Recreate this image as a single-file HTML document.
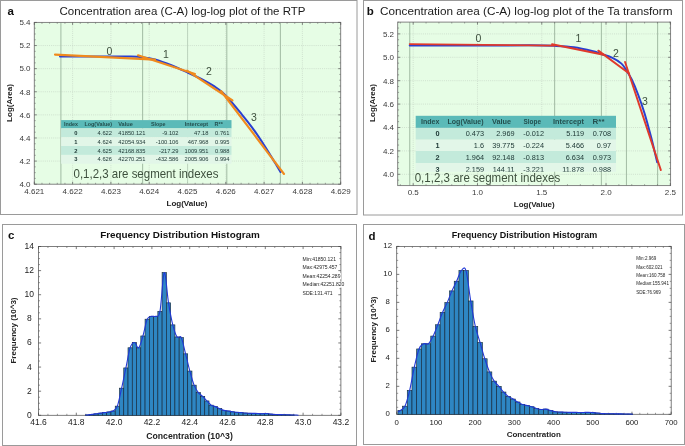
<!DOCTYPE html>
<html><head><meta charset="utf-8"><title>C-A log-log plots and frequency histograms</title>
<style>html,body{margin:0;padding:0;background:#fff;}svg{display:block;opacity:0.9999;will-change:transform;}text{font-family:"Liberation Sans",sans-serif;}</style>
</head><body>
<svg width="685" height="446" viewBox="0 0 685 446">
<rect x="0" y="0" width="685" height="446" fill="#fff"/>
<rect x="0.5" y="0.5" width="356.5" height="214.0" fill="#fff" stroke="#9a9a9a" stroke-width="1"/>
<rect x="363.5" y="0.5" width="319.0" height="214.5" fill="#fff" stroke="#9a9a9a" stroke-width="1"/>
<rect x="2.5" y="224.5" width="354.0" height="221.0" fill="#fff" stroke="#9a9a9a" stroke-width="1"/>
<rect x="363.5" y="224.5" width="321.0" height="220.0" fill="#fff" stroke="#9a9a9a" stroke-width="1"/>
<rect x="34.3" y="22.4" width="306.4" height="161.79999999999998" fill="#e6fde5"/>
<line x1="72.6" y1="22.4" x2="72.6" y2="184.2" stroke="#c6d6c6" stroke-width="0.7" stroke-dasharray="1 1.1"/>
<line x1="110.9" y1="22.4" x2="110.9" y2="184.2" stroke="#c6d6c6" stroke-width="0.7" stroke-dasharray="1 1.1"/>
<line x1="149.2" y1="22.4" x2="149.2" y2="184.2" stroke="#c6d6c6" stroke-width="0.7" stroke-dasharray="1 1.1"/>
<line x1="187.5" y1="22.4" x2="187.5" y2="184.2" stroke="#c6d6c6" stroke-width="0.7" stroke-dasharray="1 1.1"/>
<line x1="225.8" y1="22.4" x2="225.8" y2="184.2" stroke="#c6d6c6" stroke-width="0.7" stroke-dasharray="1 1.1"/>
<line x1="264.1" y1="22.4" x2="264.1" y2="184.2" stroke="#c6d6c6" stroke-width="0.7" stroke-dasharray="1 1.1"/>
<line x1="302.4" y1="22.4" x2="302.4" y2="184.2" stroke="#c6d6c6" stroke-width="0.7" stroke-dasharray="1 1.1"/>
<line x1="34.3" y1="161.09" x2="340.7" y2="161.09" stroke="#c6d6c6" stroke-width="0.7" stroke-dasharray="1 1.1"/>
<line x1="34.3" y1="137.98" x2="340.7" y2="137.98" stroke="#c6d6c6" stroke-width="0.7" stroke-dasharray="1 1.1"/>
<line x1="34.3" y1="114.87" x2="340.7" y2="114.87" stroke="#c6d6c6" stroke-width="0.7" stroke-dasharray="1 1.1"/>
<line x1="34.3" y1="91.76" x2="340.7" y2="91.76" stroke="#c6d6c6" stroke-width="0.7" stroke-dasharray="1 1.1"/>
<line x1="34.3" y1="68.65" x2="340.7" y2="68.65" stroke="#c6d6c6" stroke-width="0.7" stroke-dasharray="1 1.1"/>
<line x1="34.3" y1="45.54" x2="340.7" y2="45.54" stroke="#c6d6c6" stroke-width="0.7" stroke-dasharray="1 1.1"/>
<line x1="60.9" y1="22.4" x2="60.9" y2="184.2" stroke="#a7c0a8" stroke-width="1.1"/>
<line x1="142.6" y1="22.4" x2="142.6" y2="184.2" stroke="#a7c0a8" stroke-width="1.1"/>
<line x1="226.8" y1="22.4" x2="226.8" y2="184.2" stroke="#a7c0a8" stroke-width="1.1"/>
<line x1="280.4" y1="22.4" x2="280.4" y2="184.2" stroke="#a7c0a8" stroke-width="1.1"/>
<rect x="34.3" y="22.4" width="306.4" height="161.79999999999998" fill="none" stroke="#777" stroke-width="0.9"/>
<line x1="34.3" y1="184.2" x2="34.3" y2="181.7" stroke="#555" stroke-width="0.7"/>
<line x1="34.3" y1="22.4" x2="34.3" y2="24.9" stroke="#555" stroke-width="0.7"/>
<line x1="72.6" y1="184.2" x2="72.6" y2="181.7" stroke="#555" stroke-width="0.7"/>
<line x1="72.6" y1="22.4" x2="72.6" y2="24.9" stroke="#555" stroke-width="0.7"/>
<line x1="110.9" y1="184.2" x2="110.9" y2="181.7" stroke="#555" stroke-width="0.7"/>
<line x1="110.9" y1="22.4" x2="110.9" y2="24.9" stroke="#555" stroke-width="0.7"/>
<line x1="149.2" y1="184.2" x2="149.2" y2="181.7" stroke="#555" stroke-width="0.7"/>
<line x1="149.2" y1="22.4" x2="149.2" y2="24.9" stroke="#555" stroke-width="0.7"/>
<line x1="187.5" y1="184.2" x2="187.5" y2="181.7" stroke="#555" stroke-width="0.7"/>
<line x1="187.5" y1="22.4" x2="187.5" y2="24.9" stroke="#555" stroke-width="0.7"/>
<line x1="225.8" y1="184.2" x2="225.8" y2="181.7" stroke="#555" stroke-width="0.7"/>
<line x1="225.8" y1="22.4" x2="225.8" y2="24.9" stroke="#555" stroke-width="0.7"/>
<line x1="264.1" y1="184.2" x2="264.1" y2="181.7" stroke="#555" stroke-width="0.7"/>
<line x1="264.1" y1="22.4" x2="264.1" y2="24.9" stroke="#555" stroke-width="0.7"/>
<line x1="302.4" y1="184.2" x2="302.4" y2="181.7" stroke="#555" stroke-width="0.7"/>
<line x1="302.4" y1="22.4" x2="302.4" y2="24.9" stroke="#555" stroke-width="0.7"/>
<line x1="340.7" y1="184.2" x2="340.7" y2="181.7" stroke="#555" stroke-width="0.7"/>
<line x1="340.7" y1="22.4" x2="340.7" y2="24.9" stroke="#555" stroke-width="0.7"/>
<line x1="41.96" y1="184.2" x2="41.96" y2="182.79999999999998" stroke="#666" stroke-width="0.6"/>
<line x1="41.96" y1="22.4" x2="41.96" y2="23.799999999999997" stroke="#666" stroke-width="0.6"/>
<line x1="49.62" y1="184.2" x2="49.62" y2="182.79999999999998" stroke="#666" stroke-width="0.6"/>
<line x1="49.62" y1="22.4" x2="49.62" y2="23.799999999999997" stroke="#666" stroke-width="0.6"/>
<line x1="57.28" y1="184.2" x2="57.28" y2="182.79999999999998" stroke="#666" stroke-width="0.6"/>
<line x1="57.28" y1="22.4" x2="57.28" y2="23.799999999999997" stroke="#666" stroke-width="0.6"/>
<line x1="64.94" y1="184.2" x2="64.94" y2="182.79999999999998" stroke="#666" stroke-width="0.6"/>
<line x1="64.94" y1="22.4" x2="64.94" y2="23.799999999999997" stroke="#666" stroke-width="0.6"/>
<line x1="80.26" y1="184.2" x2="80.26" y2="182.79999999999998" stroke="#666" stroke-width="0.6"/>
<line x1="80.26" y1="22.4" x2="80.26" y2="23.799999999999997" stroke="#666" stroke-width="0.6"/>
<line x1="87.92" y1="184.2" x2="87.92" y2="182.79999999999998" stroke="#666" stroke-width="0.6"/>
<line x1="87.92" y1="22.4" x2="87.92" y2="23.799999999999997" stroke="#666" stroke-width="0.6"/>
<line x1="95.58" y1="184.2" x2="95.58" y2="182.79999999999998" stroke="#666" stroke-width="0.6"/>
<line x1="95.58" y1="22.4" x2="95.58" y2="23.799999999999997" stroke="#666" stroke-width="0.6"/>
<line x1="103.24" y1="184.2" x2="103.24" y2="182.79999999999998" stroke="#666" stroke-width="0.6"/>
<line x1="103.24" y1="22.4" x2="103.24" y2="23.799999999999997" stroke="#666" stroke-width="0.6"/>
<line x1="118.56" y1="184.2" x2="118.56" y2="182.79999999999998" stroke="#666" stroke-width="0.6"/>
<line x1="118.56" y1="22.4" x2="118.56" y2="23.799999999999997" stroke="#666" stroke-width="0.6"/>
<line x1="126.22" y1="184.2" x2="126.22" y2="182.79999999999998" stroke="#666" stroke-width="0.6"/>
<line x1="126.22" y1="22.4" x2="126.22" y2="23.799999999999997" stroke="#666" stroke-width="0.6"/>
<line x1="133.88" y1="184.2" x2="133.88" y2="182.79999999999998" stroke="#666" stroke-width="0.6"/>
<line x1="133.88" y1="22.4" x2="133.88" y2="23.799999999999997" stroke="#666" stroke-width="0.6"/>
<line x1="141.54" y1="184.2" x2="141.54" y2="182.79999999999998" stroke="#666" stroke-width="0.6"/>
<line x1="141.54" y1="22.4" x2="141.54" y2="23.799999999999997" stroke="#666" stroke-width="0.6"/>
<line x1="156.86" y1="184.2" x2="156.86" y2="182.79999999999998" stroke="#666" stroke-width="0.6"/>
<line x1="156.86" y1="22.4" x2="156.86" y2="23.799999999999997" stroke="#666" stroke-width="0.6"/>
<line x1="164.52" y1="184.2" x2="164.52" y2="182.79999999999998" stroke="#666" stroke-width="0.6"/>
<line x1="164.52" y1="22.4" x2="164.52" y2="23.799999999999997" stroke="#666" stroke-width="0.6"/>
<line x1="172.18" y1="184.2" x2="172.18" y2="182.79999999999998" stroke="#666" stroke-width="0.6"/>
<line x1="172.18" y1="22.4" x2="172.18" y2="23.799999999999997" stroke="#666" stroke-width="0.6"/>
<line x1="179.84" y1="184.2" x2="179.84" y2="182.79999999999998" stroke="#666" stroke-width="0.6"/>
<line x1="179.84" y1="22.4" x2="179.84" y2="23.799999999999997" stroke="#666" stroke-width="0.6"/>
<line x1="195.16" y1="184.2" x2="195.16" y2="182.79999999999998" stroke="#666" stroke-width="0.6"/>
<line x1="195.16" y1="22.4" x2="195.16" y2="23.799999999999997" stroke="#666" stroke-width="0.6"/>
<line x1="202.82" y1="184.2" x2="202.82" y2="182.79999999999998" stroke="#666" stroke-width="0.6"/>
<line x1="202.82" y1="22.4" x2="202.82" y2="23.799999999999997" stroke="#666" stroke-width="0.6"/>
<line x1="210.48" y1="184.2" x2="210.48" y2="182.79999999999998" stroke="#666" stroke-width="0.6"/>
<line x1="210.48" y1="22.4" x2="210.48" y2="23.799999999999997" stroke="#666" stroke-width="0.6"/>
<line x1="218.14" y1="184.2" x2="218.14" y2="182.79999999999998" stroke="#666" stroke-width="0.6"/>
<line x1="218.14" y1="22.4" x2="218.14" y2="23.799999999999997" stroke="#666" stroke-width="0.6"/>
<line x1="233.46" y1="184.2" x2="233.46" y2="182.79999999999998" stroke="#666" stroke-width="0.6"/>
<line x1="233.46" y1="22.4" x2="233.46" y2="23.799999999999997" stroke="#666" stroke-width="0.6"/>
<line x1="241.12" y1="184.2" x2="241.12" y2="182.79999999999998" stroke="#666" stroke-width="0.6"/>
<line x1="241.12" y1="22.4" x2="241.12" y2="23.799999999999997" stroke="#666" stroke-width="0.6"/>
<line x1="248.78" y1="184.2" x2="248.78" y2="182.79999999999998" stroke="#666" stroke-width="0.6"/>
<line x1="248.78" y1="22.4" x2="248.78" y2="23.799999999999997" stroke="#666" stroke-width="0.6"/>
<line x1="256.44" y1="184.2" x2="256.44" y2="182.79999999999998" stroke="#666" stroke-width="0.6"/>
<line x1="256.44" y1="22.4" x2="256.44" y2="23.799999999999997" stroke="#666" stroke-width="0.6"/>
<line x1="271.76" y1="184.2" x2="271.76" y2="182.79999999999998" stroke="#666" stroke-width="0.6"/>
<line x1="271.76" y1="22.4" x2="271.76" y2="23.799999999999997" stroke="#666" stroke-width="0.6"/>
<line x1="279.42" y1="184.2" x2="279.42" y2="182.79999999999998" stroke="#666" stroke-width="0.6"/>
<line x1="279.42" y1="22.4" x2="279.42" y2="23.799999999999997" stroke="#666" stroke-width="0.6"/>
<line x1="287.08" y1="184.2" x2="287.08" y2="182.79999999999998" stroke="#666" stroke-width="0.6"/>
<line x1="287.08" y1="22.4" x2="287.08" y2="23.799999999999997" stroke="#666" stroke-width="0.6"/>
<line x1="294.74" y1="184.2" x2="294.74" y2="182.79999999999998" stroke="#666" stroke-width="0.6"/>
<line x1="294.74" y1="22.4" x2="294.74" y2="23.799999999999997" stroke="#666" stroke-width="0.6"/>
<line x1="310.06" y1="184.2" x2="310.06" y2="182.79999999999998" stroke="#666" stroke-width="0.6"/>
<line x1="310.06" y1="22.4" x2="310.06" y2="23.799999999999997" stroke="#666" stroke-width="0.6"/>
<line x1="317.72" y1="184.2" x2="317.72" y2="182.79999999999998" stroke="#666" stroke-width="0.6"/>
<line x1="317.72" y1="22.4" x2="317.72" y2="23.799999999999997" stroke="#666" stroke-width="0.6"/>
<line x1="325.38" y1="184.2" x2="325.38" y2="182.79999999999998" stroke="#666" stroke-width="0.6"/>
<line x1="325.38" y1="22.4" x2="325.38" y2="23.799999999999997" stroke="#666" stroke-width="0.6"/>
<line x1="333.04" y1="184.2" x2="333.04" y2="182.79999999999998" stroke="#666" stroke-width="0.6"/>
<line x1="333.04" y1="22.4" x2="333.04" y2="23.799999999999997" stroke="#666" stroke-width="0.6"/>
<line x1="34.3" y1="184.2" x2="36.8" y2="184.2" stroke="#555" stroke-width="0.7"/>
<line x1="340.7" y1="184.2" x2="338.2" y2="184.2" stroke="#555" stroke-width="0.7"/>
<line x1="34.3" y1="161.09" x2="36.8" y2="161.09" stroke="#555" stroke-width="0.7"/>
<line x1="340.7" y1="161.09" x2="338.2" y2="161.09" stroke="#555" stroke-width="0.7"/>
<line x1="34.3" y1="137.98" x2="36.8" y2="137.98" stroke="#555" stroke-width="0.7"/>
<line x1="340.7" y1="137.98" x2="338.2" y2="137.98" stroke="#555" stroke-width="0.7"/>
<line x1="34.3" y1="114.87" x2="36.8" y2="114.87" stroke="#555" stroke-width="0.7"/>
<line x1="340.7" y1="114.87" x2="338.2" y2="114.87" stroke="#555" stroke-width="0.7"/>
<line x1="34.3" y1="91.76" x2="36.8" y2="91.76" stroke="#555" stroke-width="0.7"/>
<line x1="340.7" y1="91.76" x2="338.2" y2="91.76" stroke="#555" stroke-width="0.7"/>
<line x1="34.3" y1="68.65" x2="36.8" y2="68.65" stroke="#555" stroke-width="0.7"/>
<line x1="340.7" y1="68.65" x2="338.2" y2="68.65" stroke="#555" stroke-width="0.7"/>
<line x1="34.3" y1="45.54" x2="36.8" y2="45.54" stroke="#555" stroke-width="0.7"/>
<line x1="340.7" y1="45.54" x2="338.2" y2="45.54" stroke="#555" stroke-width="0.7"/>
<line x1="34.3" y1="22.43" x2="36.8" y2="22.43" stroke="#555" stroke-width="0.7"/>
<line x1="340.7" y1="22.43" x2="338.2" y2="22.43" stroke="#555" stroke-width="0.7"/>
<line x1="34.3" y1="178.42" x2="35.699999999999996" y2="178.42" stroke="#666" stroke-width="0.6"/>
<line x1="340.7" y1="178.42" x2="339.3" y2="178.42" stroke="#666" stroke-width="0.6"/>
<line x1="34.3" y1="172.65" x2="35.699999999999996" y2="172.65" stroke="#666" stroke-width="0.6"/>
<line x1="340.7" y1="172.65" x2="339.3" y2="172.65" stroke="#666" stroke-width="0.6"/>
<line x1="34.3" y1="166.87" x2="35.699999999999996" y2="166.87" stroke="#666" stroke-width="0.6"/>
<line x1="340.7" y1="166.87" x2="339.3" y2="166.87" stroke="#666" stroke-width="0.6"/>
<line x1="34.3" y1="155.31" x2="35.699999999999996" y2="155.31" stroke="#666" stroke-width="0.6"/>
<line x1="340.7" y1="155.31" x2="339.3" y2="155.31" stroke="#666" stroke-width="0.6"/>
<line x1="34.3" y1="149.54" x2="35.699999999999996" y2="149.54" stroke="#666" stroke-width="0.6"/>
<line x1="340.7" y1="149.54" x2="339.3" y2="149.54" stroke="#666" stroke-width="0.6"/>
<line x1="34.3" y1="143.76" x2="35.699999999999996" y2="143.76" stroke="#666" stroke-width="0.6"/>
<line x1="340.7" y1="143.76" x2="339.3" y2="143.76" stroke="#666" stroke-width="0.6"/>
<line x1="34.3" y1="132.2" x2="35.699999999999996" y2="132.2" stroke="#666" stroke-width="0.6"/>
<line x1="340.7" y1="132.2" x2="339.3" y2="132.2" stroke="#666" stroke-width="0.6"/>
<line x1="34.3" y1="126.42" x2="35.699999999999996" y2="126.42" stroke="#666" stroke-width="0.6"/>
<line x1="340.7" y1="126.42" x2="339.3" y2="126.42" stroke="#666" stroke-width="0.6"/>
<line x1="34.3" y1="120.65" x2="35.699999999999996" y2="120.65" stroke="#666" stroke-width="0.6"/>
<line x1="340.7" y1="120.65" x2="339.3" y2="120.65" stroke="#666" stroke-width="0.6"/>
<line x1="34.3" y1="109.09" x2="35.699999999999996" y2="109.09" stroke="#666" stroke-width="0.6"/>
<line x1="340.7" y1="109.09" x2="339.3" y2="109.09" stroke="#666" stroke-width="0.6"/>
<line x1="34.3" y1="103.31" x2="35.699999999999996" y2="103.31" stroke="#666" stroke-width="0.6"/>
<line x1="340.7" y1="103.31" x2="339.3" y2="103.31" stroke="#666" stroke-width="0.6"/>
<line x1="34.3" y1="97.54" x2="35.699999999999996" y2="97.54" stroke="#666" stroke-width="0.6"/>
<line x1="340.7" y1="97.54" x2="339.3" y2="97.54" stroke="#666" stroke-width="0.6"/>
<line x1="34.3" y1="85.98" x2="35.699999999999996" y2="85.98" stroke="#666" stroke-width="0.6"/>
<line x1="340.7" y1="85.98" x2="339.3" y2="85.98" stroke="#666" stroke-width="0.6"/>
<line x1="34.3" y1="80.2" x2="35.699999999999996" y2="80.2" stroke="#666" stroke-width="0.6"/>
<line x1="340.7" y1="80.2" x2="339.3" y2="80.2" stroke="#666" stroke-width="0.6"/>
<line x1="34.3" y1="74.43" x2="35.699999999999996" y2="74.43" stroke="#666" stroke-width="0.6"/>
<line x1="340.7" y1="74.43" x2="339.3" y2="74.43" stroke="#666" stroke-width="0.6"/>
<line x1="34.3" y1="62.87" x2="35.699999999999996" y2="62.87" stroke="#666" stroke-width="0.6"/>
<line x1="340.7" y1="62.87" x2="339.3" y2="62.87" stroke="#666" stroke-width="0.6"/>
<line x1="34.3" y1="57.1" x2="35.699999999999996" y2="57.1" stroke="#666" stroke-width="0.6"/>
<line x1="340.7" y1="57.1" x2="339.3" y2="57.1" stroke="#666" stroke-width="0.6"/>
<line x1="34.3" y1="51.32" x2="35.699999999999996" y2="51.32" stroke="#666" stroke-width="0.6"/>
<line x1="340.7" y1="51.32" x2="339.3" y2="51.32" stroke="#666" stroke-width="0.6"/>
<line x1="34.3" y1="39.76" x2="35.699999999999996" y2="39.76" stroke="#666" stroke-width="0.6"/>
<line x1="340.7" y1="39.76" x2="339.3" y2="39.76" stroke="#666" stroke-width="0.6"/>
<line x1="34.3" y1="33.99" x2="35.699999999999996" y2="33.99" stroke="#666" stroke-width="0.6"/>
<line x1="340.7" y1="33.99" x2="339.3" y2="33.99" stroke="#666" stroke-width="0.6"/>
<line x1="34.3" y1="28.21" x2="35.699999999999996" y2="28.21" stroke="#666" stroke-width="0.6"/>
<line x1="340.7" y1="28.21" x2="339.3" y2="28.21" stroke="#666" stroke-width="0.6"/>
<text x="34.3" y="194.4" font-family="Liberation Sans, sans-serif" font-size="8.0" fill="#3a3a3a" text-anchor="middle">4.621</text>
<text x="72.6" y="194.4" font-family="Liberation Sans, sans-serif" font-size="8.0" fill="#3a3a3a" text-anchor="middle">4.622</text>
<text x="110.9" y="194.4" font-family="Liberation Sans, sans-serif" font-size="8.0" fill="#3a3a3a" text-anchor="middle">4.623</text>
<text x="149.2" y="194.4" font-family="Liberation Sans, sans-serif" font-size="8.0" fill="#3a3a3a" text-anchor="middle">4.624</text>
<text x="187.5" y="194.4" font-family="Liberation Sans, sans-serif" font-size="8.0" fill="#3a3a3a" text-anchor="middle">4.625</text>
<text x="225.8" y="194.4" font-family="Liberation Sans, sans-serif" font-size="8.0" fill="#3a3a3a" text-anchor="middle">4.626</text>
<text x="264.1" y="194.4" font-family="Liberation Sans, sans-serif" font-size="8.0" fill="#3a3a3a" text-anchor="middle">4.627</text>
<text x="302.4" y="194.4" font-family="Liberation Sans, sans-serif" font-size="8.0" fill="#3a3a3a" text-anchor="middle">4.628</text>
<text x="340.7" y="194.4" font-family="Liberation Sans, sans-serif" font-size="8.0" fill="#3a3a3a" text-anchor="middle">4.629</text>
<text x="30.5" y="187" font-family="Liberation Sans, sans-serif" font-size="8.0" fill="#3a3a3a" text-anchor="end">4.0</text>
<text x="30.5" y="163.89" font-family="Liberation Sans, sans-serif" font-size="8.0" fill="#3a3a3a" text-anchor="end">4.2</text>
<text x="30.5" y="140.78" font-family="Liberation Sans, sans-serif" font-size="8.0" fill="#3a3a3a" text-anchor="end">4.4</text>
<text x="30.5" y="117.67" font-family="Liberation Sans, sans-serif" font-size="8.0" fill="#3a3a3a" text-anchor="end">4.6</text>
<text x="30.5" y="94.56" font-family="Liberation Sans, sans-serif" font-size="8.0" fill="#3a3a3a" text-anchor="end">4.8</text>
<text x="30.5" y="71.45" font-family="Liberation Sans, sans-serif" font-size="8.0" fill="#3a3a3a" text-anchor="end">5.0</text>
<text x="30.5" y="48.34" font-family="Liberation Sans, sans-serif" font-size="8.0" fill="#3a3a3a" text-anchor="end">5.2</text>
<text x="30.5" y="25.23" font-family="Liberation Sans, sans-serif" font-size="8.0" fill="#3a3a3a" text-anchor="end">5.4</text>
<line x1="187.6" y1="22.4" x2="187.6" y2="184.2" stroke="#bcd3bd" stroke-width="1"/>
<path d="M60 56.6C66.67 56.57 88.33 56.4 100 56.4C111.67 56.4 123 56.47 130 56.6C137 56.73 137.83 56.72 142 57.2C146.17 57.68 150 58.12 155 59.5C160 60.88 166.67 63.38 172 65.5C177.33 67.62 181.5 69.65 187 72.2C192.5 74.75 200.33 78.37 205 80.8C209.67 83.23 212.17 84.93 215 86.8C217.83 88.67 219.83 90.13 222 92C224.17 93.87 225 94.63 228 98C231 101.37 236 107.32 240 112.2C244 117.08 247.83 121.58 252 127.3C256.17 133.02 261.17 140.58 265 146.5C268.83 152.42 272.42 158.55 275 162.8C277.58 167.05 279.58 170.47 280.5 172" fill="none" stroke="#2a3fd0" stroke-width="2" stroke-linecap="round"/>
<line x1="55" y1="54.6" x2="155" y2="59.6" stroke="#f08a1d" stroke-width="2.1" stroke-linecap="round"/>
<line x1="138" y1="55.3" x2="195" y2="74" stroke="#f08a1d" stroke-width="2.1" stroke-linecap="round"/>
<line x1="187" y1="70.6" x2="232.5" y2="100.5" stroke="#f08a1d" stroke-width="2.1" stroke-linecap="round"/>
<line x1="221" y1="91" x2="284" y2="174" stroke="#f08a1d" stroke-width="2.1" stroke-linecap="round"/>
<text x="109.5" y="55" font-family="Liberation Sans, sans-serif" font-size="10.5" fill="#3d4f3d" text-anchor="middle">0</text>
<text x="166" y="57.5" font-family="Liberation Sans, sans-serif" font-size="10.5" fill="#3d4f3d" text-anchor="middle">1</text>
<text x="209" y="75" font-family="Liberation Sans, sans-serif" font-size="10.5" fill="#3d4f3d" text-anchor="middle">2</text>
<text x="254" y="121" font-family="Liberation Sans, sans-serif" font-size="10.5" fill="#3d4f3d" text-anchor="middle">3</text>
<rect x="61.1" y="120.1" width="170.4" height="8.3" fill="#5bbab8"/>
<rect x="61.1" y="128.4" width="170.4" height="8.8" fill="#c3eadb"/>
<rect x="61.1" y="137.2" width="170.4" height="8.8" fill="#e2f6e8"/>
<rect x="61.1" y="146" width="170.4" height="8.9" fill="#c3eadb"/>
<rect x="61.1" y="154.9" width="170.4" height="8.8" fill="#e2f6e8"/>
<text x="63.9" y="126.32" font-family="Liberation Sans, sans-serif" font-size="5.75" font-weight="bold" fill="#24504f" text-anchor="start" textLength="14" lengthAdjust="spacingAndGlyphs">Index</text>
<text x="84.4" y="126.32" font-family="Liberation Sans, sans-serif" font-size="5.75" font-weight="bold" fill="#24504f" text-anchor="start" textLength="27.7" lengthAdjust="spacingAndGlyphs">Log(Value)</text>
<text x="118.2" y="126.32" font-family="Liberation Sans, sans-serif" font-size="5.75" font-weight="bold" fill="#24504f" text-anchor="start" textLength="14.6" lengthAdjust="spacingAndGlyphs">Value</text>
<text x="150.9" y="126.32" font-family="Liberation Sans, sans-serif" font-size="5.75" font-weight="bold" fill="#24504f" text-anchor="start" textLength="14.6" lengthAdjust="spacingAndGlyphs">Slope</text>
<text x="184.8" y="126.32" font-family="Liberation Sans, sans-serif" font-size="5.75" font-weight="bold" fill="#24504f" text-anchor="start" textLength="23.4" lengthAdjust="spacingAndGlyphs">Intercept</text>
<text x="214.6" y="126.32" font-family="Liberation Sans, sans-serif" font-size="5.75" font-weight="bold" fill="#24504f" text-anchor="start" textLength="8.2" lengthAdjust="spacingAndGlyphs">R**</text>
<text x="77.5" y="134.87" font-family="Liberation Sans, sans-serif" font-size="5.75" font-weight="bold" fill="#203a37" text-anchor="end">0</text>
<text x="112" y="134.87" font-family="Liberation Sans, sans-serif" font-size="5.75" fill="#203a37" text-anchor="end">4.622</text>
<text x="145.5" y="134.87" font-family="Liberation Sans, sans-serif" font-size="5.75" fill="#203a37" text-anchor="end">41850.121</text>
<text x="178.5" y="134.87" font-family="Liberation Sans, sans-serif" font-size="5.75" fill="#203a37" text-anchor="end">-9.102</text>
<text x="208.5" y="134.87" font-family="Liberation Sans, sans-serif" font-size="5.75" fill="#203a37" text-anchor="end">47.18</text>
<text x="229.5" y="134.87" font-family="Liberation Sans, sans-serif" font-size="5.75" fill="#203a37" text-anchor="end">0.761</text>
<text x="77.5" y="143.67" font-family="Liberation Sans, sans-serif" font-size="5.75" font-weight="bold" fill="#203a37" text-anchor="end">1</text>
<text x="112" y="143.67" font-family="Liberation Sans, sans-serif" font-size="5.75" fill="#203a37" text-anchor="end">4.624</text>
<text x="145.5" y="143.67" font-family="Liberation Sans, sans-serif" font-size="5.75" fill="#203a37" text-anchor="end">42054.934</text>
<text x="178.5" y="143.67" font-family="Liberation Sans, sans-serif" font-size="5.75" fill="#203a37" text-anchor="end">-100.106</text>
<text x="208.5" y="143.67" font-family="Liberation Sans, sans-serif" font-size="5.75" fill="#203a37" text-anchor="end">467.968</text>
<text x="229.5" y="143.67" font-family="Liberation Sans, sans-serif" font-size="5.75" fill="#203a37" text-anchor="end">0.995</text>
<text x="77.5" y="152.52" font-family="Liberation Sans, sans-serif" font-size="5.75" font-weight="bold" fill="#203a37" text-anchor="end">2</text>
<text x="112" y="152.52" font-family="Liberation Sans, sans-serif" font-size="5.75" fill="#203a37" text-anchor="end">4.625</text>
<text x="145.5" y="152.52" font-family="Liberation Sans, sans-serif" font-size="5.75" fill="#203a37" text-anchor="end">42168.835</text>
<text x="178.5" y="152.52" font-family="Liberation Sans, sans-serif" font-size="5.75" fill="#203a37" text-anchor="end">-217.29</text>
<text x="208.5" y="152.52" font-family="Liberation Sans, sans-serif" font-size="5.75" fill="#203a37" text-anchor="end">1009.951</text>
<text x="229.5" y="152.52" font-family="Liberation Sans, sans-serif" font-size="5.75" fill="#203a37" text-anchor="end">0.988</text>
<text x="77.5" y="161.37" font-family="Liberation Sans, sans-serif" font-size="5.75" font-weight="bold" fill="#203a37" text-anchor="end">3</text>
<text x="112" y="161.37" font-family="Liberation Sans, sans-serif" font-size="5.75" fill="#203a37" text-anchor="end">4.626</text>
<text x="145.5" y="161.37" font-family="Liberation Sans, sans-serif" font-size="5.75" fill="#203a37" text-anchor="end">42270.251</text>
<text x="178.5" y="161.37" font-family="Liberation Sans, sans-serif" font-size="5.75" fill="#203a37" text-anchor="end">-432.586</text>
<text x="208.5" y="161.37" font-family="Liberation Sans, sans-serif" font-size="5.75" fill="#203a37" text-anchor="end">2005.906</text>
<text x="229.5" y="161.37" font-family="Liberation Sans, sans-serif" font-size="5.75" fill="#203a37" text-anchor="end">0.994</text>
<text x="73.5" y="177.8" font-family="Liberation Sans, sans-serif" font-size="12.6" fill="#3d4f3d" textLength="145" lengthAdjust="spacingAndGlyphs">0,1,2,3 are segment indexes</text>
<text x="7.6" y="15.2" font-family="Liberation Sans, sans-serif" font-size="11.5" font-weight="bold" fill="#111">a</text>
<text x="59.5" y="15.2" font-family="Liberation Sans, sans-serif" font-size="11.8" fill="#1a1a1a" textLength="246" lengthAdjust="spacingAndGlyphs">Concentration area (C-A) log-log plot of the RTP</text>
<text x="187" y="206.3" font-family="Liberation Sans, sans-serif" font-size="8" font-weight="bold" fill="#222" text-anchor="middle">Log(Value)</text>
<text transform="translate(12.2,103) rotate(-90)" font-family="Liberation Sans, sans-serif" font-size="8" font-weight="bold" fill="#222" text-anchor="middle">Log(Area)</text>
<rect x="397.7" y="22.1" width="272.90000000000003" height="163.5" fill="#e6fde5"/>
<line x1="413.2" y1="22.1" x2="413.2" y2="185.6" stroke="#c6d6c6" stroke-width="0.7" stroke-dasharray="1 1.1"/>
<line x1="477.48" y1="22.1" x2="477.48" y2="185.6" stroke="#c6d6c6" stroke-width="0.7" stroke-dasharray="1 1.1"/>
<line x1="541.75" y1="22.1" x2="541.75" y2="185.6" stroke="#c6d6c6" stroke-width="0.7" stroke-dasharray="1 1.1"/>
<line x1="606.02" y1="22.1" x2="606.02" y2="185.6" stroke="#c6d6c6" stroke-width="0.7" stroke-dasharray="1 1.1"/>
<line x1="397.7" y1="174.3" x2="670.6" y2="174.3" stroke="#c6d6c6" stroke-width="0.7" stroke-dasharray="1 1.1"/>
<line x1="397.7" y1="150.9" x2="670.6" y2="150.9" stroke="#c6d6c6" stroke-width="0.7" stroke-dasharray="1 1.1"/>
<line x1="397.7" y1="127.5" x2="670.6" y2="127.5" stroke="#c6d6c6" stroke-width="0.7" stroke-dasharray="1 1.1"/>
<line x1="397.7" y1="104.1" x2="670.6" y2="104.1" stroke="#c6d6c6" stroke-width="0.7" stroke-dasharray="1 1.1"/>
<line x1="397.7" y1="80.7" x2="670.6" y2="80.7" stroke="#c6d6c6" stroke-width="0.7" stroke-dasharray="1 1.1"/>
<line x1="397.7" y1="57.3" x2="670.6" y2="57.3" stroke="#c6d6c6" stroke-width="0.7" stroke-dasharray="1 1.1"/>
<line x1="397.7" y1="33.9" x2="670.6" y2="33.9" stroke="#c6d6c6" stroke-width="0.7" stroke-dasharray="1 1.1"/>
<line x1="409.73" y1="22.1" x2="409.73" y2="185.6" stroke="#a7c0a8" stroke-width="1.1"/>
<line x1="554.61" y1="22.1" x2="554.61" y2="185.6" stroke="#a7c0a8" stroke-width="1.1"/>
<line x1="601.4" y1="22.1" x2="601.4" y2="185.6" stroke="#a7c0a8" stroke-width="1.1"/>
<line x1="626.46" y1="22.1" x2="626.46" y2="185.6" stroke="#a7c0a8" stroke-width="1.1"/>
<line x1="657.6" y1="22.1" x2="657.6" y2="185.6" stroke="#a7c0a8" stroke-width="1.1"/>
<rect x="397.7" y="22.1" width="272.90000000000003" height="163.5" fill="none" stroke="#777" stroke-width="0.9"/>
<line x1="413.2" y1="185.6" x2="413.2" y2="183.1" stroke="#555" stroke-width="0.7"/>
<line x1="413.2" y1="22.1" x2="413.2" y2="24.6" stroke="#555" stroke-width="0.7"/>
<line x1="477.48" y1="185.6" x2="477.48" y2="183.1" stroke="#555" stroke-width="0.7"/>
<line x1="477.48" y1="22.1" x2="477.48" y2="24.6" stroke="#555" stroke-width="0.7"/>
<line x1="541.75" y1="185.6" x2="541.75" y2="183.1" stroke="#555" stroke-width="0.7"/>
<line x1="541.75" y1="22.1" x2="541.75" y2="24.6" stroke="#555" stroke-width="0.7"/>
<line x1="606.02" y1="185.6" x2="606.02" y2="183.1" stroke="#555" stroke-width="0.7"/>
<line x1="606.02" y1="22.1" x2="606.02" y2="24.6" stroke="#555" stroke-width="0.7"/>
<line x1="670.3" y1="185.6" x2="670.3" y2="183.1" stroke="#555" stroke-width="0.7"/>
<line x1="670.3" y1="22.1" x2="670.3" y2="24.6" stroke="#555" stroke-width="0.7"/>
<line x1="400.34" y1="185.6" x2="400.34" y2="184.2" stroke="#666" stroke-width="0.6"/>
<line x1="400.34" y1="22.1" x2="400.34" y2="23.5" stroke="#666" stroke-width="0.6"/>
<line x1="426.06" y1="185.6" x2="426.06" y2="184.2" stroke="#666" stroke-width="0.6"/>
<line x1="426.06" y1="22.1" x2="426.06" y2="23.5" stroke="#666" stroke-width="0.6"/>
<line x1="438.91" y1="185.6" x2="438.91" y2="184.2" stroke="#666" stroke-width="0.6"/>
<line x1="438.91" y1="22.1" x2="438.91" y2="23.5" stroke="#666" stroke-width="0.6"/>
<line x1="451.76" y1="185.6" x2="451.76" y2="184.2" stroke="#666" stroke-width="0.6"/>
<line x1="451.76" y1="22.1" x2="451.76" y2="23.5" stroke="#666" stroke-width="0.6"/>
<line x1="464.62" y1="185.6" x2="464.62" y2="184.2" stroke="#666" stroke-width="0.6"/>
<line x1="464.62" y1="22.1" x2="464.62" y2="23.5" stroke="#666" stroke-width="0.6"/>
<line x1="490.33" y1="185.6" x2="490.33" y2="184.2" stroke="#666" stroke-width="0.6"/>
<line x1="490.33" y1="22.1" x2="490.33" y2="23.5" stroke="#666" stroke-width="0.6"/>
<line x1="503.19" y1="185.6" x2="503.19" y2="184.2" stroke="#666" stroke-width="0.6"/>
<line x1="503.19" y1="22.1" x2="503.19" y2="23.5" stroke="#666" stroke-width="0.6"/>
<line x1="516.04" y1="185.6" x2="516.04" y2="184.2" stroke="#666" stroke-width="0.6"/>
<line x1="516.04" y1="22.1" x2="516.04" y2="23.5" stroke="#666" stroke-width="0.6"/>
<line x1="528.89" y1="185.6" x2="528.89" y2="184.2" stroke="#666" stroke-width="0.6"/>
<line x1="528.89" y1="22.1" x2="528.89" y2="23.5" stroke="#666" stroke-width="0.6"/>
<line x1="554.61" y1="185.6" x2="554.61" y2="184.2" stroke="#666" stroke-width="0.6"/>
<line x1="554.61" y1="22.1" x2="554.61" y2="23.5" stroke="#666" stroke-width="0.6"/>
<line x1="567.46" y1="185.6" x2="567.46" y2="184.2" stroke="#666" stroke-width="0.6"/>
<line x1="567.46" y1="22.1" x2="567.46" y2="23.5" stroke="#666" stroke-width="0.6"/>
<line x1="580.32" y1="185.6" x2="580.32" y2="184.2" stroke="#666" stroke-width="0.6"/>
<line x1="580.32" y1="22.1" x2="580.32" y2="23.5" stroke="#666" stroke-width="0.6"/>
<line x1="593.17" y1="185.6" x2="593.17" y2="184.2" stroke="#666" stroke-width="0.6"/>
<line x1="593.17" y1="22.1" x2="593.17" y2="23.5" stroke="#666" stroke-width="0.6"/>
<line x1="618.88" y1="185.6" x2="618.88" y2="184.2" stroke="#666" stroke-width="0.6"/>
<line x1="618.88" y1="22.1" x2="618.88" y2="23.5" stroke="#666" stroke-width="0.6"/>
<line x1="631.74" y1="185.6" x2="631.74" y2="184.2" stroke="#666" stroke-width="0.6"/>
<line x1="631.74" y1="22.1" x2="631.74" y2="23.5" stroke="#666" stroke-width="0.6"/>
<line x1="644.59" y1="185.6" x2="644.59" y2="184.2" stroke="#666" stroke-width="0.6"/>
<line x1="644.59" y1="22.1" x2="644.59" y2="23.5" stroke="#666" stroke-width="0.6"/>
<line x1="657.44" y1="185.6" x2="657.44" y2="184.2" stroke="#666" stroke-width="0.6"/>
<line x1="657.44" y1="22.1" x2="657.44" y2="23.5" stroke="#666" stroke-width="0.6"/>
<line x1="397.7" y1="174.3" x2="400.2" y2="174.3" stroke="#555" stroke-width="0.7"/>
<line x1="670.6" y1="174.3" x2="668.1" y2="174.3" stroke="#555" stroke-width="0.7"/>
<line x1="397.7" y1="150.9" x2="400.2" y2="150.9" stroke="#555" stroke-width="0.7"/>
<line x1="670.6" y1="150.9" x2="668.1" y2="150.9" stroke="#555" stroke-width="0.7"/>
<line x1="397.7" y1="127.5" x2="400.2" y2="127.5" stroke="#555" stroke-width="0.7"/>
<line x1="670.6" y1="127.5" x2="668.1" y2="127.5" stroke="#555" stroke-width="0.7"/>
<line x1="397.7" y1="104.1" x2="400.2" y2="104.1" stroke="#555" stroke-width="0.7"/>
<line x1="670.6" y1="104.1" x2="668.1" y2="104.1" stroke="#555" stroke-width="0.7"/>
<line x1="397.7" y1="80.7" x2="400.2" y2="80.7" stroke="#555" stroke-width="0.7"/>
<line x1="670.6" y1="80.7" x2="668.1" y2="80.7" stroke="#555" stroke-width="0.7"/>
<line x1="397.7" y1="57.3" x2="400.2" y2="57.3" stroke="#555" stroke-width="0.7"/>
<line x1="670.6" y1="57.3" x2="668.1" y2="57.3" stroke="#555" stroke-width="0.7"/>
<line x1="397.7" y1="33.9" x2="400.2" y2="33.9" stroke="#555" stroke-width="0.7"/>
<line x1="670.6" y1="33.9" x2="668.1" y2="33.9" stroke="#555" stroke-width="0.7"/>
<line x1="397.7" y1="180.15" x2="399.09999999999997" y2="180.15" stroke="#666" stroke-width="0.6"/>
<line x1="670.6" y1="180.15" x2="669.2" y2="180.15" stroke="#666" stroke-width="0.6"/>
<line x1="397.7" y1="168.45" x2="399.09999999999997" y2="168.45" stroke="#666" stroke-width="0.6"/>
<line x1="670.6" y1="168.45" x2="669.2" y2="168.45" stroke="#666" stroke-width="0.6"/>
<line x1="397.7" y1="162.6" x2="399.09999999999997" y2="162.6" stroke="#666" stroke-width="0.6"/>
<line x1="670.6" y1="162.6" x2="669.2" y2="162.6" stroke="#666" stroke-width="0.6"/>
<line x1="397.7" y1="156.75" x2="399.09999999999997" y2="156.75" stroke="#666" stroke-width="0.6"/>
<line x1="670.6" y1="156.75" x2="669.2" y2="156.75" stroke="#666" stroke-width="0.6"/>
<line x1="397.7" y1="145.05" x2="399.09999999999997" y2="145.05" stroke="#666" stroke-width="0.6"/>
<line x1="670.6" y1="145.05" x2="669.2" y2="145.05" stroke="#666" stroke-width="0.6"/>
<line x1="397.7" y1="139.2" x2="399.09999999999997" y2="139.2" stroke="#666" stroke-width="0.6"/>
<line x1="670.6" y1="139.2" x2="669.2" y2="139.2" stroke="#666" stroke-width="0.6"/>
<line x1="397.7" y1="133.35" x2="399.09999999999997" y2="133.35" stroke="#666" stroke-width="0.6"/>
<line x1="670.6" y1="133.35" x2="669.2" y2="133.35" stroke="#666" stroke-width="0.6"/>
<line x1="397.7" y1="121.65" x2="399.09999999999997" y2="121.65" stroke="#666" stroke-width="0.6"/>
<line x1="670.6" y1="121.65" x2="669.2" y2="121.65" stroke="#666" stroke-width="0.6"/>
<line x1="397.7" y1="115.8" x2="399.09999999999997" y2="115.8" stroke="#666" stroke-width="0.6"/>
<line x1="670.6" y1="115.8" x2="669.2" y2="115.8" stroke="#666" stroke-width="0.6"/>
<line x1="397.7" y1="109.95" x2="399.09999999999997" y2="109.95" stroke="#666" stroke-width="0.6"/>
<line x1="670.6" y1="109.95" x2="669.2" y2="109.95" stroke="#666" stroke-width="0.6"/>
<line x1="397.7" y1="98.25" x2="399.09999999999997" y2="98.25" stroke="#666" stroke-width="0.6"/>
<line x1="670.6" y1="98.25" x2="669.2" y2="98.25" stroke="#666" stroke-width="0.6"/>
<line x1="397.7" y1="92.4" x2="399.09999999999997" y2="92.4" stroke="#666" stroke-width="0.6"/>
<line x1="670.6" y1="92.4" x2="669.2" y2="92.4" stroke="#666" stroke-width="0.6"/>
<line x1="397.7" y1="86.55" x2="399.09999999999997" y2="86.55" stroke="#666" stroke-width="0.6"/>
<line x1="670.6" y1="86.55" x2="669.2" y2="86.55" stroke="#666" stroke-width="0.6"/>
<line x1="397.7" y1="74.85" x2="399.09999999999997" y2="74.85" stroke="#666" stroke-width="0.6"/>
<line x1="670.6" y1="74.85" x2="669.2" y2="74.85" stroke="#666" stroke-width="0.6"/>
<line x1="397.7" y1="69" x2="399.09999999999997" y2="69" stroke="#666" stroke-width="0.6"/>
<line x1="670.6" y1="69" x2="669.2" y2="69" stroke="#666" stroke-width="0.6"/>
<line x1="397.7" y1="63.15" x2="399.09999999999997" y2="63.15" stroke="#666" stroke-width="0.6"/>
<line x1="670.6" y1="63.15" x2="669.2" y2="63.15" stroke="#666" stroke-width="0.6"/>
<line x1="397.7" y1="51.45" x2="399.09999999999997" y2="51.45" stroke="#666" stroke-width="0.6"/>
<line x1="670.6" y1="51.45" x2="669.2" y2="51.45" stroke="#666" stroke-width="0.6"/>
<line x1="397.7" y1="45.6" x2="399.09999999999997" y2="45.6" stroke="#666" stroke-width="0.6"/>
<line x1="670.6" y1="45.6" x2="669.2" y2="45.6" stroke="#666" stroke-width="0.6"/>
<line x1="397.7" y1="39.75" x2="399.09999999999997" y2="39.75" stroke="#666" stroke-width="0.6"/>
<line x1="670.6" y1="39.75" x2="669.2" y2="39.75" stroke="#666" stroke-width="0.6"/>
<line x1="397.7" y1="28.05" x2="399.09999999999997" y2="28.05" stroke="#666" stroke-width="0.6"/>
<line x1="670.6" y1="28.05" x2="669.2" y2="28.05" stroke="#666" stroke-width="0.6"/>
<line x1="397.7" y1="22.2" x2="399.09999999999997" y2="22.2" stroke="#666" stroke-width="0.6"/>
<line x1="670.6" y1="22.2" x2="669.2" y2="22.2" stroke="#666" stroke-width="0.6"/>
<text x="413.2" y="194.7" font-family="Liberation Sans, sans-serif" font-size="8.0" fill="#3a3a3a" text-anchor="middle">0.5</text>
<text x="477.48" y="194.7" font-family="Liberation Sans, sans-serif" font-size="8.0" fill="#3a3a3a" text-anchor="middle">1.0</text>
<text x="541.75" y="194.7" font-family="Liberation Sans, sans-serif" font-size="8.0" fill="#3a3a3a" text-anchor="middle">1.5</text>
<text x="606.02" y="194.7" font-family="Liberation Sans, sans-serif" font-size="8.0" fill="#3a3a3a" text-anchor="middle">2.0</text>
<text x="670.3" y="194.7" font-family="Liberation Sans, sans-serif" font-size="8.0" fill="#3a3a3a" text-anchor="middle">2.5</text>
<text x="394" y="177.1" font-family="Liberation Sans, sans-serif" font-size="8.0" fill="#3a3a3a" text-anchor="end">4.0</text>
<text x="394" y="153.7" font-family="Liberation Sans, sans-serif" font-size="8.0" fill="#3a3a3a" text-anchor="end">4.2</text>
<text x="394" y="130.3" font-family="Liberation Sans, sans-serif" font-size="8.0" fill="#3a3a3a" text-anchor="end">4.4</text>
<text x="394" y="106.9" font-family="Liberation Sans, sans-serif" font-size="8.0" fill="#3a3a3a" text-anchor="end">4.6</text>
<text x="394" y="83.5" font-family="Liberation Sans, sans-serif" font-size="8.0" fill="#3a3a3a" text-anchor="end">4.8</text>
<text x="394" y="60.1" font-family="Liberation Sans, sans-serif" font-size="8.0" fill="#3a3a3a" text-anchor="end">5.0</text>
<text x="394" y="36.7" font-family="Liberation Sans, sans-serif" font-size="8.0" fill="#3a3a3a" text-anchor="end">5.2</text>
<path d="M409.73 45.48C421.02 45.48 457.61 45.5 477.48 45.48C497.34 45.46 516.04 45.31 528.89 45.37C541.75 45.42 547.11 45.52 554.61 45.83C562.1 46.15 567.46 46.32 573.89 47.24C580.32 48.15 588.59 50.2 593.17 51.33C597.75 52.46 598.18 52.93 601.4 54.02C604.61 55.12 609.11 56.29 612.45 57.88C615.79 59.48 619.12 61.53 621.45 63.62C623.79 65.7 624.75 67.75 626.46 70.4C628.18 73.06 629.79 75.47 631.74 79.53C633.68 83.59 636.02 89.09 638.16 94.74C640.31 100.4 642.45 106.44 644.59 113.46C646.73 120.48 648.92 128.73 651.02 136.86C653.12 144.99 656.16 158.02 657.19 162.25" fill="none" stroke="#2a3fd0" stroke-width="2" stroke-linecap="round"/>
<line x1="409.73" y1="44.08" x2="554.61" y2="45.6" stroke="#e0392b" stroke-width="1.9" stroke-linecap="round"/>
<line x1="552.03" y1="44.2" x2="604.74" y2="54.96" stroke="#e0392b" stroke-width="1.9" stroke-linecap="round"/>
<line x1="598.31" y1="50.63" x2="629.16" y2="73.45" stroke="#e0392b" stroke-width="1.9" stroke-linecap="round"/>
<line x1="625.05" y1="61.98" x2="660.85" y2="170.09" stroke="#e0392b" stroke-width="1.9" stroke-linecap="round"/>
<text x="478.5" y="42" font-family="Liberation Sans, sans-serif" font-size="10.5" fill="#3d4f3d" text-anchor="middle">0</text>
<text x="578.5" y="42" font-family="Liberation Sans, sans-serif" font-size="10.5" fill="#3d4f3d" text-anchor="middle">1</text>
<text x="616" y="57" font-family="Liberation Sans, sans-serif" font-size="10.5" fill="#3d4f3d" text-anchor="middle">2</text>
<text x="645" y="104.5" font-family="Liberation Sans, sans-serif" font-size="10.5" fill="#3d4f3d" text-anchor="middle">3</text>
<clipPath id="tbclip"><rect x="410" y="110" width="212" height="61.7"/></clipPath><g clip-path="url(#tbclip)">
<rect x="415.7" y="115.8" width="200.3" height="12.1" fill="#5bbab8"/>
<rect x="415.7" y="127.9" width="200.3" height="11.8" fill="#c3eadb"/>
<rect x="415.7" y="139.7" width="200.3" height="11.3" fill="#e2f6e8"/>
<rect x="415.7" y="151" width="200.3" height="12" fill="#c3eadb"/>
<rect x="415.7" y="163" width="200.3" height="12" fill="#e2f6e8"/>
<text x="421" y="124.48" font-family="Liberation Sans, sans-serif" font-size="7.3" font-weight="bold" fill="#24504f" text-anchor="start" textLength="18.5" lengthAdjust="spacingAndGlyphs">Index</text>
<text x="447.5" y="124.48" font-family="Liberation Sans, sans-serif" font-size="7.3" font-weight="bold" fill="#24504f" text-anchor="start" textLength="36" lengthAdjust="spacingAndGlyphs">Log(Value)</text>
<text x="492" y="124.48" font-family="Liberation Sans, sans-serif" font-size="7.3" font-weight="bold" fill="#24504f" text-anchor="start" textLength="19" lengthAdjust="spacingAndGlyphs">Value</text>
<text x="523.5" y="124.48" font-family="Liberation Sans, sans-serif" font-size="7.3" font-weight="bold" fill="#24504f" text-anchor="start" textLength="17.5" lengthAdjust="spacingAndGlyphs">Slope</text>
<text x="553" y="124.48" font-family="Liberation Sans, sans-serif" font-size="7.3" font-weight="bold" fill="#24504f" text-anchor="start" textLength="31" lengthAdjust="spacingAndGlyphs">Intercept</text>
<text x="592.5" y="124.48" font-family="Liberation Sans, sans-serif" font-size="7.3" font-weight="bold" fill="#24504f" text-anchor="start" textLength="12" lengthAdjust="spacingAndGlyphs">R**</text>
<text x="439.5" y="136.43" font-family="Liberation Sans, sans-serif" font-size="7.3" font-weight="bold" fill="#203a37" text-anchor="end">0</text>
<text x="484" y="136.43" font-family="Liberation Sans, sans-serif" font-size="7.3" fill="#203a37" text-anchor="end">0.473</text>
<text x="514.5" y="136.43" font-family="Liberation Sans, sans-serif" font-size="7.3" fill="#203a37" text-anchor="end">2.969</text>
<text x="544" y="136.43" font-family="Liberation Sans, sans-serif" font-size="7.3" fill="#203a37" text-anchor="end">-0.012</text>
<text x="584" y="136.43" font-family="Liberation Sans, sans-serif" font-size="7.3" fill="#203a37" text-anchor="end">5.119</text>
<text x="611" y="136.43" font-family="Liberation Sans, sans-serif" font-size="7.3" fill="#203a37" text-anchor="end">0.708</text>
<text x="439.5" y="147.98" font-family="Liberation Sans, sans-serif" font-size="7.3" font-weight="bold" fill="#203a37" text-anchor="end">1</text>
<text x="484" y="147.98" font-family="Liberation Sans, sans-serif" font-size="7.3" fill="#203a37" text-anchor="end">1.6</text>
<text x="514.5" y="147.98" font-family="Liberation Sans, sans-serif" font-size="7.3" fill="#203a37" text-anchor="end">39.775</text>
<text x="544" y="147.98" font-family="Liberation Sans, sans-serif" font-size="7.3" fill="#203a37" text-anchor="end">-0.224</text>
<text x="584" y="147.98" font-family="Liberation Sans, sans-serif" font-size="7.3" fill="#203a37" text-anchor="end">5.466</text>
<text x="611" y="147.98" font-family="Liberation Sans, sans-serif" font-size="7.3" fill="#203a37" text-anchor="end">0.97</text>
<text x="439.5" y="159.63" font-family="Liberation Sans, sans-serif" font-size="7.3" font-weight="bold" fill="#203a37" text-anchor="end">2</text>
<text x="484" y="159.63" font-family="Liberation Sans, sans-serif" font-size="7.3" fill="#203a37" text-anchor="end">1.964</text>
<text x="514.5" y="159.63" font-family="Liberation Sans, sans-serif" font-size="7.3" fill="#203a37" text-anchor="end">92.148</text>
<text x="544" y="159.63" font-family="Liberation Sans, sans-serif" font-size="7.3" fill="#203a37" text-anchor="end">-0.813</text>
<text x="584" y="159.63" font-family="Liberation Sans, sans-serif" font-size="7.3" fill="#203a37" text-anchor="end">6.634</text>
<text x="611" y="159.63" font-family="Liberation Sans, sans-serif" font-size="7.3" fill="#203a37" text-anchor="end">0.973</text>
<text x="439.5" y="171.63" font-family="Liberation Sans, sans-serif" font-size="7.3" font-weight="bold" fill="#203a37" text-anchor="end">3</text>
<text x="484" y="171.63" font-family="Liberation Sans, sans-serif" font-size="7.3" fill="#203a37" text-anchor="end">2.159</text>
<text x="514.5" y="171.63" font-family="Liberation Sans, sans-serif" font-size="7.3" fill="#203a37" text-anchor="end">144.11</text>
<text x="544" y="171.63" font-family="Liberation Sans, sans-serif" font-size="7.3" fill="#203a37" text-anchor="end">-3.221</text>
<text x="584" y="171.63" font-family="Liberation Sans, sans-serif" font-size="7.3" fill="#203a37" text-anchor="end">11.878</text>
<text x="611" y="171.63" font-family="Liberation Sans, sans-serif" font-size="7.3" fill="#203a37" text-anchor="end">0.988</text>
</g>
<text x="414.7" y="181.8" font-family="Liberation Sans, sans-serif" font-size="12.6" fill="#3d4f3d" textLength="145.5" lengthAdjust="spacingAndGlyphs">0,1,2,3 are segment indexes</text>
<text x="366.8" y="15.2" font-family="Liberation Sans, sans-serif" font-size="11.5" font-weight="bold" fill="#111">b</text>
<text x="380" y="15.2" font-family="Liberation Sans, sans-serif" font-size="11.8" fill="#1a1a1a" textLength="292.5" lengthAdjust="spacingAndGlyphs">Concentration area (C-A) log-log plot of the Ta transform</text>
<text x="534.3" y="206.7" font-family="Liberation Sans, sans-serif" font-size="8" font-weight="bold" fill="#222" text-anchor="middle">Log(Value)</text>
<text transform="translate(374.6,103) rotate(-90)" font-family="Liberation Sans, sans-serif" font-size="8" font-weight="bold" fill="#222" text-anchor="middle">Log(Area)</text>
<rect x="38.5" y="246.5" width="302.4" height="168.8" fill="#fff" stroke="#5e5e5e" stroke-width="0.8"/>
<line x1="38.5" y1="415.3" x2="38.5" y2="412.7" stroke="#444" stroke-width="0.7"/>
<line x1="38.5" y1="246.5" x2="38.5" y2="249.1" stroke="#444" stroke-width="0.7"/>
<line x1="76.3" y1="415.3" x2="76.3" y2="412.7" stroke="#444" stroke-width="0.7"/>
<line x1="76.3" y1="246.5" x2="76.3" y2="249.1" stroke="#444" stroke-width="0.7"/>
<line x1="114.1" y1="415.3" x2="114.1" y2="412.7" stroke="#444" stroke-width="0.7"/>
<line x1="114.1" y1="246.5" x2="114.1" y2="249.1" stroke="#444" stroke-width="0.7"/>
<line x1="151.9" y1="415.3" x2="151.9" y2="412.7" stroke="#444" stroke-width="0.7"/>
<line x1="151.9" y1="246.5" x2="151.9" y2="249.1" stroke="#444" stroke-width="0.7"/>
<line x1="189.7" y1="415.3" x2="189.7" y2="412.7" stroke="#444" stroke-width="0.7"/>
<line x1="189.7" y1="246.5" x2="189.7" y2="249.1" stroke="#444" stroke-width="0.7"/>
<line x1="227.5" y1="415.3" x2="227.5" y2="412.7" stroke="#444" stroke-width="0.7"/>
<line x1="227.5" y1="246.5" x2="227.5" y2="249.1" stroke="#444" stroke-width="0.7"/>
<line x1="265.3" y1="415.3" x2="265.3" y2="412.7" stroke="#444" stroke-width="0.7"/>
<line x1="265.3" y1="246.5" x2="265.3" y2="249.1" stroke="#444" stroke-width="0.7"/>
<line x1="303.1" y1="415.3" x2="303.1" y2="412.7" stroke="#444" stroke-width="0.7"/>
<line x1="303.1" y1="246.5" x2="303.1" y2="249.1" stroke="#444" stroke-width="0.7"/>
<line x1="340.9" y1="415.3" x2="340.9" y2="412.7" stroke="#444" stroke-width="0.7"/>
<line x1="340.9" y1="246.5" x2="340.9" y2="249.1" stroke="#444" stroke-width="0.7"/>
<line x1="47.95" y1="415.3" x2="47.95" y2="413.8" stroke="#555" stroke-width="0.6"/>
<line x1="47.95" y1="246.5" x2="47.95" y2="248.0" stroke="#555" stroke-width="0.6"/>
<line x1="57.4" y1="415.3" x2="57.4" y2="413.8" stroke="#555" stroke-width="0.6"/>
<line x1="57.4" y1="246.5" x2="57.4" y2="248.0" stroke="#555" stroke-width="0.6"/>
<line x1="66.85" y1="415.3" x2="66.85" y2="413.8" stroke="#555" stroke-width="0.6"/>
<line x1="66.85" y1="246.5" x2="66.85" y2="248.0" stroke="#555" stroke-width="0.6"/>
<line x1="85.75" y1="415.3" x2="85.75" y2="413.8" stroke="#555" stroke-width="0.6"/>
<line x1="85.75" y1="246.5" x2="85.75" y2="248.0" stroke="#555" stroke-width="0.6"/>
<line x1="95.2" y1="415.3" x2="95.2" y2="413.8" stroke="#555" stroke-width="0.6"/>
<line x1="95.2" y1="246.5" x2="95.2" y2="248.0" stroke="#555" stroke-width="0.6"/>
<line x1="104.65" y1="415.3" x2="104.65" y2="413.8" stroke="#555" stroke-width="0.6"/>
<line x1="104.65" y1="246.5" x2="104.65" y2="248.0" stroke="#555" stroke-width="0.6"/>
<line x1="123.55" y1="415.3" x2="123.55" y2="413.8" stroke="#555" stroke-width="0.6"/>
<line x1="123.55" y1="246.5" x2="123.55" y2="248.0" stroke="#555" stroke-width="0.6"/>
<line x1="133" y1="415.3" x2="133" y2="413.8" stroke="#555" stroke-width="0.6"/>
<line x1="133" y1="246.5" x2="133" y2="248.0" stroke="#555" stroke-width="0.6"/>
<line x1="142.45" y1="415.3" x2="142.45" y2="413.8" stroke="#555" stroke-width="0.6"/>
<line x1="142.45" y1="246.5" x2="142.45" y2="248.0" stroke="#555" stroke-width="0.6"/>
<line x1="161.35" y1="415.3" x2="161.35" y2="413.8" stroke="#555" stroke-width="0.6"/>
<line x1="161.35" y1="246.5" x2="161.35" y2="248.0" stroke="#555" stroke-width="0.6"/>
<line x1="170.8" y1="415.3" x2="170.8" y2="413.8" stroke="#555" stroke-width="0.6"/>
<line x1="170.8" y1="246.5" x2="170.8" y2="248.0" stroke="#555" stroke-width="0.6"/>
<line x1="180.25" y1="415.3" x2="180.25" y2="413.8" stroke="#555" stroke-width="0.6"/>
<line x1="180.25" y1="246.5" x2="180.25" y2="248.0" stroke="#555" stroke-width="0.6"/>
<line x1="199.15" y1="415.3" x2="199.15" y2="413.8" stroke="#555" stroke-width="0.6"/>
<line x1="199.15" y1="246.5" x2="199.15" y2="248.0" stroke="#555" stroke-width="0.6"/>
<line x1="208.6" y1="415.3" x2="208.6" y2="413.8" stroke="#555" stroke-width="0.6"/>
<line x1="208.6" y1="246.5" x2="208.6" y2="248.0" stroke="#555" stroke-width="0.6"/>
<line x1="218.05" y1="415.3" x2="218.05" y2="413.8" stroke="#555" stroke-width="0.6"/>
<line x1="218.05" y1="246.5" x2="218.05" y2="248.0" stroke="#555" stroke-width="0.6"/>
<line x1="236.95" y1="415.3" x2="236.95" y2="413.8" stroke="#555" stroke-width="0.6"/>
<line x1="236.95" y1="246.5" x2="236.95" y2="248.0" stroke="#555" stroke-width="0.6"/>
<line x1="246.4" y1="415.3" x2="246.4" y2="413.8" stroke="#555" stroke-width="0.6"/>
<line x1="246.4" y1="246.5" x2="246.4" y2="248.0" stroke="#555" stroke-width="0.6"/>
<line x1="255.85" y1="415.3" x2="255.85" y2="413.8" stroke="#555" stroke-width="0.6"/>
<line x1="255.85" y1="246.5" x2="255.85" y2="248.0" stroke="#555" stroke-width="0.6"/>
<line x1="274.75" y1="415.3" x2="274.75" y2="413.8" stroke="#555" stroke-width="0.6"/>
<line x1="274.75" y1="246.5" x2="274.75" y2="248.0" stroke="#555" stroke-width="0.6"/>
<line x1="284.2" y1="415.3" x2="284.2" y2="413.8" stroke="#555" stroke-width="0.6"/>
<line x1="284.2" y1="246.5" x2="284.2" y2="248.0" stroke="#555" stroke-width="0.6"/>
<line x1="293.65" y1="415.3" x2="293.65" y2="413.8" stroke="#555" stroke-width="0.6"/>
<line x1="293.65" y1="246.5" x2="293.65" y2="248.0" stroke="#555" stroke-width="0.6"/>
<line x1="312.55" y1="415.3" x2="312.55" y2="413.8" stroke="#555" stroke-width="0.6"/>
<line x1="312.55" y1="246.5" x2="312.55" y2="248.0" stroke="#555" stroke-width="0.6"/>
<line x1="322" y1="415.3" x2="322" y2="413.8" stroke="#555" stroke-width="0.6"/>
<line x1="322" y1="246.5" x2="322" y2="248.0" stroke="#555" stroke-width="0.6"/>
<line x1="331.45" y1="415.3" x2="331.45" y2="413.8" stroke="#555" stroke-width="0.6"/>
<line x1="331.45" y1="246.5" x2="331.45" y2="248.0" stroke="#555" stroke-width="0.6"/>
<line x1="38.5" y1="415.3" x2="41.1" y2="415.3" stroke="#444" stroke-width="0.7"/>
<line x1="340.9" y1="415.3" x2="338.29999999999995" y2="415.3" stroke="#444" stroke-width="0.7"/>
<line x1="38.5" y1="391.19" x2="41.1" y2="391.19" stroke="#444" stroke-width="0.7"/>
<line x1="340.9" y1="391.19" x2="338.29999999999995" y2="391.19" stroke="#444" stroke-width="0.7"/>
<line x1="38.5" y1="367.07" x2="41.1" y2="367.07" stroke="#444" stroke-width="0.7"/>
<line x1="340.9" y1="367.07" x2="338.29999999999995" y2="367.07" stroke="#444" stroke-width="0.7"/>
<line x1="38.5" y1="342.96" x2="41.1" y2="342.96" stroke="#444" stroke-width="0.7"/>
<line x1="340.9" y1="342.96" x2="338.29999999999995" y2="342.96" stroke="#444" stroke-width="0.7"/>
<line x1="38.5" y1="318.84" x2="41.1" y2="318.84" stroke="#444" stroke-width="0.7"/>
<line x1="340.9" y1="318.84" x2="338.29999999999995" y2="318.84" stroke="#444" stroke-width="0.7"/>
<line x1="38.5" y1="294.73" x2="41.1" y2="294.73" stroke="#444" stroke-width="0.7"/>
<line x1="340.9" y1="294.73" x2="338.29999999999995" y2="294.73" stroke="#444" stroke-width="0.7"/>
<line x1="38.5" y1="270.61" x2="41.1" y2="270.61" stroke="#444" stroke-width="0.7"/>
<line x1="340.9" y1="270.61" x2="338.29999999999995" y2="270.61" stroke="#444" stroke-width="0.7"/>
<line x1="38.5" y1="246.5" x2="41.1" y2="246.5" stroke="#444" stroke-width="0.7"/>
<line x1="340.9" y1="246.5" x2="338.29999999999995" y2="246.5" stroke="#444" stroke-width="0.7"/>
<line x1="38.5" y1="409.27" x2="40.0" y2="409.27" stroke="#555" stroke-width="0.6"/>
<line x1="340.9" y1="409.27" x2="339.4" y2="409.27" stroke="#555" stroke-width="0.6"/>
<line x1="38.5" y1="403.24" x2="40.0" y2="403.24" stroke="#555" stroke-width="0.6"/>
<line x1="340.9" y1="403.24" x2="339.4" y2="403.24" stroke="#555" stroke-width="0.6"/>
<line x1="38.5" y1="397.21" x2="40.0" y2="397.21" stroke="#555" stroke-width="0.6"/>
<line x1="340.9" y1="397.21" x2="339.4" y2="397.21" stroke="#555" stroke-width="0.6"/>
<line x1="38.5" y1="385.16" x2="40.0" y2="385.16" stroke="#555" stroke-width="0.6"/>
<line x1="340.9" y1="385.16" x2="339.4" y2="385.16" stroke="#555" stroke-width="0.6"/>
<line x1="38.5" y1="379.13" x2="40.0" y2="379.13" stroke="#555" stroke-width="0.6"/>
<line x1="340.9" y1="379.13" x2="339.4" y2="379.13" stroke="#555" stroke-width="0.6"/>
<line x1="38.5" y1="373.1" x2="40.0" y2="373.1" stroke="#555" stroke-width="0.6"/>
<line x1="340.9" y1="373.1" x2="339.4" y2="373.1" stroke="#555" stroke-width="0.6"/>
<line x1="38.5" y1="361.04" x2="40.0" y2="361.04" stroke="#555" stroke-width="0.6"/>
<line x1="340.9" y1="361.04" x2="339.4" y2="361.04" stroke="#555" stroke-width="0.6"/>
<line x1="38.5" y1="355.01" x2="40.0" y2="355.01" stroke="#555" stroke-width="0.6"/>
<line x1="340.9" y1="355.01" x2="339.4" y2="355.01" stroke="#555" stroke-width="0.6"/>
<line x1="38.5" y1="348.99" x2="40.0" y2="348.99" stroke="#555" stroke-width="0.6"/>
<line x1="340.9" y1="348.99" x2="339.4" y2="348.99" stroke="#555" stroke-width="0.6"/>
<line x1="38.5" y1="336.93" x2="40.0" y2="336.93" stroke="#555" stroke-width="0.6"/>
<line x1="340.9" y1="336.93" x2="339.4" y2="336.93" stroke="#555" stroke-width="0.6"/>
<line x1="38.5" y1="330.9" x2="40.0" y2="330.9" stroke="#555" stroke-width="0.6"/>
<line x1="340.9" y1="330.9" x2="339.4" y2="330.9" stroke="#555" stroke-width="0.6"/>
<line x1="38.5" y1="324.87" x2="40.0" y2="324.87" stroke="#555" stroke-width="0.6"/>
<line x1="340.9" y1="324.87" x2="339.4" y2="324.87" stroke="#555" stroke-width="0.6"/>
<line x1="38.5" y1="312.81" x2="40.0" y2="312.81" stroke="#555" stroke-width="0.6"/>
<line x1="340.9" y1="312.81" x2="339.4" y2="312.81" stroke="#555" stroke-width="0.6"/>
<line x1="38.5" y1="306.79" x2="40.0" y2="306.79" stroke="#555" stroke-width="0.6"/>
<line x1="340.9" y1="306.79" x2="339.4" y2="306.79" stroke="#555" stroke-width="0.6"/>
<line x1="38.5" y1="300.76" x2="40.0" y2="300.76" stroke="#555" stroke-width="0.6"/>
<line x1="340.9" y1="300.76" x2="339.4" y2="300.76" stroke="#555" stroke-width="0.6"/>
<line x1="38.5" y1="288.7" x2="40.0" y2="288.7" stroke="#555" stroke-width="0.6"/>
<line x1="340.9" y1="288.7" x2="339.4" y2="288.7" stroke="#555" stroke-width="0.6"/>
<line x1="38.5" y1="282.67" x2="40.0" y2="282.67" stroke="#555" stroke-width="0.6"/>
<line x1="340.9" y1="282.67" x2="339.4" y2="282.67" stroke="#555" stroke-width="0.6"/>
<line x1="38.5" y1="276.64" x2="40.0" y2="276.64" stroke="#555" stroke-width="0.6"/>
<line x1="340.9" y1="276.64" x2="339.4" y2="276.64" stroke="#555" stroke-width="0.6"/>
<line x1="38.5" y1="264.59" x2="40.0" y2="264.59" stroke="#555" stroke-width="0.6"/>
<line x1="340.9" y1="264.59" x2="339.4" y2="264.59" stroke="#555" stroke-width="0.6"/>
<line x1="38.5" y1="258.56" x2="40.0" y2="258.56" stroke="#555" stroke-width="0.6"/>
<line x1="340.9" y1="258.56" x2="339.4" y2="258.56" stroke="#555" stroke-width="0.6"/>
<line x1="38.5" y1="252.53" x2="40.0" y2="252.53" stroke="#555" stroke-width="0.6"/>
<line x1="340.9" y1="252.53" x2="339.4" y2="252.53" stroke="#555" stroke-width="0.6"/>
<rect x="85.4" y="414.94" width="4.26" height="0.36" fill="#2e86c3" stroke="#14283c" stroke-width="0.65"/>
<rect x="89.66" y="414.34" width="4.26" height="0.96" fill="#2e86c3" stroke="#14283c" stroke-width="0.65"/>
<rect x="93.92" y="413.85" width="4.26" height="1.45" fill="#2e86c3" stroke="#14283c" stroke-width="0.65"/>
<rect x="98.19" y="413.13" width="4.26" height="2.17" fill="#2e86c3" stroke="#14283c" stroke-width="0.65"/>
<rect x="102.45" y="412.65" width="4.26" height="2.65" fill="#2e86c3" stroke="#14283c" stroke-width="0.65"/>
<rect x="106.71" y="411.92" width="4.26" height="3.38" fill="#2e86c3" stroke="#14283c" stroke-width="0.65"/>
<rect x="110.97" y="410.96" width="4.26" height="4.34" fill="#2e86c3" stroke="#14283c" stroke-width="0.65"/>
<rect x="115.23" y="406.14" width="4.26" height="9.16" fill="#2e86c3" stroke="#14283c" stroke-width="0.65"/>
<rect x="119.5" y="388.17" width="4.26" height="27.13" fill="#2e86c3" stroke="#14283c" stroke-width="0.65"/>
<rect x="123.76" y="367.92" width="4.26" height="47.38" fill="#2e86c3" stroke="#14283c" stroke-width="0.65"/>
<rect x="128.02" y="347.78" width="4.26" height="67.52" fill="#2e86c3" stroke="#14283c" stroke-width="0.65"/>
<rect x="132.28" y="342.47" width="4.26" height="72.83" fill="#2e86c3" stroke="#14283c" stroke-width="0.65"/>
<rect x="136.54" y="347.78" width="4.26" height="67.52" fill="#2e86c3" stroke="#14283c" stroke-width="0.65"/>
<rect x="140.81" y="335.96" width="4.26" height="79.34" fill="#2e86c3" stroke="#14283c" stroke-width="0.65"/>
<rect x="145.07" y="319.2" width="4.26" height="96.1" fill="#2e86c3" stroke="#14283c" stroke-width="0.65"/>
<rect x="149.33" y="316.31" width="4.26" height="98.99" fill="#2e86c3" stroke="#14283c" stroke-width="0.65"/>
<rect x="153.59" y="316.31" width="4.26" height="98.99" fill="#2e86c3" stroke="#14283c" stroke-width="0.65"/>
<rect x="157.85" y="311.37" width="4.26" height="103.93" fill="#2e86c3" stroke="#14283c" stroke-width="0.65"/>
<rect x="162.12" y="272.66" width="4.26" height="142.64" fill="#2e86c3" stroke="#14283c" stroke-width="0.65"/>
<rect x="166.38" y="302.81" width="4.26" height="112.49" fill="#2e86c3" stroke="#14283c" stroke-width="0.65"/>
<rect x="170.64" y="324.87" width="4.26" height="90.43" fill="#2e86c3" stroke="#14283c" stroke-width="0.65"/>
<rect x="174.9" y="336.93" width="4.26" height="78.37" fill="#2e86c3" stroke="#14283c" stroke-width="0.65"/>
<rect x="179.16" y="337.65" width="4.26" height="77.65" fill="#2e86c3" stroke="#14283c" stroke-width="0.65"/>
<rect x="183.43" y="353.81" width="4.26" height="61.49" fill="#2e86c3" stroke="#14283c" stroke-width="0.65"/>
<rect x="187.69" y="371.05" width="4.26" height="44.25" fill="#2e86c3" stroke="#14283c" stroke-width="0.65"/>
<rect x="191.95" y="385.16" width="4.26" height="30.14" fill="#2e86c3" stroke="#14283c" stroke-width="0.65"/>
<rect x="196.21" y="392.63" width="4.26" height="22.67" fill="#2e86c3" stroke="#14283c" stroke-width="0.65"/>
<rect x="200.47" y="396.37" width="4.26" height="18.93" fill="#2e86c3" stroke="#14283c" stroke-width="0.65"/>
<rect x="204.74" y="400.95" width="4.26" height="14.35" fill="#2e86c3" stroke="#14283c" stroke-width="0.65"/>
<rect x="209" y="405.17" width="4.26" height="10.13" fill="#2e86c3" stroke="#14283c" stroke-width="0.65"/>
<rect x="213.26" y="406.62" width="4.26" height="8.68" fill="#2e86c3" stroke="#14283c" stroke-width="0.65"/>
<rect x="217.52" y="408.67" width="4.26" height="6.63" fill="#2e86c3" stroke="#14283c" stroke-width="0.65"/>
<rect x="221.78" y="410.36" width="4.26" height="4.94" fill="#2e86c3" stroke="#14283c" stroke-width="0.65"/>
<rect x="226.05" y="410.96" width="4.26" height="4.34" fill="#2e86c3" stroke="#14283c" stroke-width="0.65"/>
<rect x="230.31" y="411.8" width="4.26" height="3.5" fill="#2e86c3" stroke="#14283c" stroke-width="0.65"/>
<rect x="234.57" y="412.29" width="4.26" height="3.01" fill="#2e86c3" stroke="#14283c" stroke-width="0.65"/>
<rect x="238.83" y="412.65" width="4.26" height="2.65" fill="#2e86c3" stroke="#14283c" stroke-width="0.65"/>
<rect x="243.09" y="413.01" width="4.26" height="2.29" fill="#2e86c3" stroke="#14283c" stroke-width="0.65"/>
<rect x="247.36" y="413.25" width="4.26" height="2.05" fill="#2e86c3" stroke="#14283c" stroke-width="0.65"/>
<rect x="251.62" y="413.37" width="4.26" height="1.93" fill="#2e86c3" stroke="#14283c" stroke-width="0.65"/>
<rect x="255.88" y="413.49" width="4.26" height="1.81" fill="#2e86c3" stroke="#14283c" stroke-width="0.65"/>
<rect x="260.14" y="413.73" width="4.26" height="1.57" fill="#2e86c3" stroke="#14283c" stroke-width="0.65"/>
<rect x="264.4" y="413.49" width="4.26" height="1.81" fill="#2e86c3" stroke="#14283c" stroke-width="0.65"/>
<rect x="268.67" y="414.09" width="4.26" height="1.21" fill="#2e86c3" stroke="#14283c" stroke-width="0.65"/>
<rect x="272.93" y="414.46" width="4.26" height="0.84" fill="#2e86c3" stroke="#14283c" stroke-width="0.65"/>
<rect x="277.19" y="414.58" width="4.26" height="0.72" fill="#2e86c3" stroke="#14283c" stroke-width="0.65"/>
<rect x="281.45" y="414.7" width="4.26" height="0.6" fill="#2e86c3" stroke="#14283c" stroke-width="0.65"/>
<rect x="285.71" y="414.82" width="4.26" height="0.48" fill="#2e86c3" stroke="#14283c" stroke-width="0.65"/>
<rect x="289.98" y="414.94" width="4.26" height="0.36" fill="#2e86c3" stroke="#14283c" stroke-width="0.65"/>
<path d="M85.4 415.08C85.76 415.06 86.47 415.06 87.53 414.94C88.6 414.81 90.37 414.52 91.79 414.34C93.21 414.15 94.63 414.05 96.06 413.85C97.48 413.65 98.9 413.33 100.32 413.13C101.74 412.93 103.16 412.85 104.58 412.65C106 412.45 107.42 412.21 108.84 411.92C110.26 411.64 111.68 411.92 113.1 410.96C114.52 409.99 115.94 409.93 117.37 406.14C118.79 402.34 120.21 394.54 121.63 388.17C123.05 381.8 124.47 374.65 125.89 367.92C127.31 361.18 128.73 352.02 130.15 347.78C131.57 343.54 132.99 342.47 134.41 342.47C135.83 342.47 137.25 348.87 138.67 347.78C140.1 346.69 141.52 340.73 142.94 335.96C144.36 331.2 145.78 322.48 147.2 319.2C148.62 315.93 150.04 316.79 151.46 316.31C152.88 315.83 154.3 317.13 155.72 316.31C157.14 315.49 158.56 318.64 159.98 311.37C161.41 304.09 162.83 274.09 164.25 272.66C165.67 271.24 167.09 294.11 168.51 302.81C169.93 311.51 171.35 319.18 172.77 324.87C174.19 330.56 175.61 334.8 177.03 336.93C178.45 339.06 179.87 334.84 181.29 337.65C182.72 340.47 184.14 348.24 185.56 353.81C186.98 359.37 188.4 365.83 189.82 371.05C191.24 376.28 192.66 381.56 194.08 385.16C195.5 388.75 196.92 390.76 198.34 392.63C199.76 394.5 201.18 394.98 202.6 396.37C204.03 397.76 205.45 399.49 206.87 400.95C208.29 402.42 209.71 404.23 211.13 405.17C212.55 406.12 213.97 406.04 215.39 406.62C216.81 407.2 218.23 408.05 219.65 408.67C221.07 409.29 222.49 409.97 223.91 410.36C225.34 410.74 226.76 410.72 228.18 410.96C229.6 411.2 231.02 411.58 232.44 411.8C233.86 412.02 235.28 412.15 236.7 412.29C238.12 412.43 239.54 412.53 240.96 412.65C242.38 412.77 243.8 412.91 245.22 413.01C246.65 413.11 248.07 413.19 249.49 413.25C250.91 413.31 252.33 413.33 253.75 413.37C255.17 413.41 256.59 413.43 258.01 413.49C259.43 413.55 260.85 413.73 262.27 413.73C263.69 413.73 265.11 413.43 266.53 413.49C267.96 413.55 269.38 413.93 270.8 414.09C272.22 414.26 273.64 414.38 275.06 414.46C276.48 414.54 277.9 414.54 279.32 414.58C280.74 414.62 282.16 414.66 283.58 414.7C285 414.74 286.42 414.78 287.84 414.82C289.27 414.86 290.69 414.9 292.11 414.94C293.53 414.98 295.3 415 296.37 415.06C297.43 415.12 298.14 415.26 298.5 415.3" fill="none" stroke="#2038d6" stroke-width="1.1" stroke-linejoin="round"/>
<text x="38.5" y="424.8" font-family="Liberation Sans, sans-serif" font-size="8.5" fill="#222" text-anchor="middle">41.6</text>
<text x="76.3" y="424.8" font-family="Liberation Sans, sans-serif" font-size="8.5" fill="#222" text-anchor="middle">41.8</text>
<text x="114.1" y="424.8" font-family="Liberation Sans, sans-serif" font-size="8.5" fill="#222" text-anchor="middle">42.0</text>
<text x="151.9" y="424.8" font-family="Liberation Sans, sans-serif" font-size="8.5" fill="#222" text-anchor="middle">42.2</text>
<text x="189.7" y="424.8" font-family="Liberation Sans, sans-serif" font-size="8.5" fill="#222" text-anchor="middle">42.4</text>
<text x="227.5" y="424.8" font-family="Liberation Sans, sans-serif" font-size="8.5" fill="#222" text-anchor="middle">42.6</text>
<text x="265.3" y="424.8" font-family="Liberation Sans, sans-serif" font-size="8.5" fill="#222" text-anchor="middle">42.8</text>
<text x="303.1" y="424.8" font-family="Liberation Sans, sans-serif" font-size="8.5" fill="#222" text-anchor="middle">43.0</text>
<text x="340.9" y="424.8" font-family="Liberation Sans, sans-serif" font-size="8.5" fill="#222" text-anchor="middle">43.2</text>
<text x="29.3" y="417.8" font-family="Liberation Sans, sans-serif" font-size="8.5" fill="#222" text-anchor="middle">0</text>
<text x="29.3" y="393.69" font-family="Liberation Sans, sans-serif" font-size="8.5" fill="#222" text-anchor="middle">2</text>
<text x="29.3" y="369.57" font-family="Liberation Sans, sans-serif" font-size="8.5" fill="#222" text-anchor="middle">4</text>
<text x="29.3" y="345.46" font-family="Liberation Sans, sans-serif" font-size="8.5" fill="#222" text-anchor="middle">6</text>
<text x="29.3" y="321.34" font-family="Liberation Sans, sans-serif" font-size="8.5" fill="#222" text-anchor="middle">8</text>
<text x="29.3" y="297.23" font-family="Liberation Sans, sans-serif" font-size="8.5" fill="#222" text-anchor="middle">10</text>
<text x="29.3" y="273.11" font-family="Liberation Sans, sans-serif" font-size="8.5" fill="#222" text-anchor="middle">12</text>
<text x="29.3" y="249" font-family="Liberation Sans, sans-serif" font-size="8.5" fill="#222" text-anchor="middle">14</text>
<rect x="302.1" y="256.3" width="34.41" height="6" fill="#fff"/>
<text x="302.6" y="260.9" font-family="Liberation Sans, sans-serif" font-size="5.05" fill="#262626">Min:41850.121</text>
<rect x="302.1" y="264.75" width="35.81" height="6" fill="#fff"/>
<text x="302.6" y="269.35" font-family="Liberation Sans, sans-serif" font-size="5.05" fill="#262626">Max:42975.457</text>
<rect x="302.1" y="273.2" width="38.9" height="6" fill="#fff"/>
<text x="302.6" y="277.8" font-family="Liberation Sans, sans-serif" font-size="5.05" fill="#262626">Mean:42254.289</text>
<rect x="302.1" y="281.65" width="42.83" height="6" fill="#fff"/>
<text x="302.6" y="286.25" font-family="Liberation Sans, sans-serif" font-size="5.05" fill="#262626">Median:42251.820</text>
<rect x="302.1" y="290.1" width="31.04" height="6" fill="#fff"/>
<text x="302.6" y="294.7" font-family="Liberation Sans, sans-serif" font-size="5.05" fill="#262626">SDE:131.471</text>
<text x="8.0" y="239.4" font-family="Liberation Sans, sans-serif" font-size="11.5" font-weight="bold" fill="#111">c</text>
<text x="180" y="238.2" font-family="Liberation Sans, sans-serif" font-size="9.9" font-weight="bold" fill="#111" text-anchor="middle">Frequency Distribution Histogram</text>
<text x="189.5" y="438.5" font-family="Liberation Sans, sans-serif" font-size="8.7" font-weight="bold" fill="#222" text-anchor="middle">Concentration (10^3)</text>
<text transform="translate(15.8,330.5) rotate(-90)" font-family="Liberation Sans, sans-serif" font-size="8" font-weight="bold" fill="#222" text-anchor="middle">Frequency (10^3)</text>
<rect x="396.7" y="246.4" width="274.50000000000006" height="167.9" fill="#fff" stroke="#5e5e5e" stroke-width="0.8"/>
<line x1="396.7" y1="414.3" x2="396.7" y2="411.7" stroke="#444" stroke-width="0.7"/>
<line x1="396.7" y1="246.4" x2="396.7" y2="249.0" stroke="#444" stroke-width="0.7"/>
<line x1="435.91" y1="414.3" x2="435.91" y2="411.7" stroke="#444" stroke-width="0.7"/>
<line x1="435.91" y1="246.4" x2="435.91" y2="249.0" stroke="#444" stroke-width="0.7"/>
<line x1="475.12" y1="414.3" x2="475.12" y2="411.7" stroke="#444" stroke-width="0.7"/>
<line x1="475.12" y1="246.4" x2="475.12" y2="249.0" stroke="#444" stroke-width="0.7"/>
<line x1="514.33" y1="414.3" x2="514.33" y2="411.7" stroke="#444" stroke-width="0.7"/>
<line x1="514.33" y1="246.4" x2="514.33" y2="249.0" stroke="#444" stroke-width="0.7"/>
<line x1="553.54" y1="414.3" x2="553.54" y2="411.7" stroke="#444" stroke-width="0.7"/>
<line x1="553.54" y1="246.4" x2="553.54" y2="249.0" stroke="#444" stroke-width="0.7"/>
<line x1="592.75" y1="414.3" x2="592.75" y2="411.7" stroke="#444" stroke-width="0.7"/>
<line x1="592.75" y1="246.4" x2="592.75" y2="249.0" stroke="#444" stroke-width="0.7"/>
<line x1="631.96" y1="414.3" x2="631.96" y2="411.7" stroke="#444" stroke-width="0.7"/>
<line x1="631.96" y1="246.4" x2="631.96" y2="249.0" stroke="#444" stroke-width="0.7"/>
<line x1="671.17" y1="414.3" x2="671.17" y2="411.7" stroke="#444" stroke-width="0.7"/>
<line x1="671.17" y1="246.4" x2="671.17" y2="249.0" stroke="#444" stroke-width="0.7"/>
<line x1="404.54" y1="414.3" x2="404.54" y2="412.8" stroke="#555" stroke-width="0.6"/>
<line x1="404.54" y1="246.4" x2="404.54" y2="247.9" stroke="#555" stroke-width="0.6"/>
<line x1="412.38" y1="414.3" x2="412.38" y2="412.8" stroke="#555" stroke-width="0.6"/>
<line x1="412.38" y1="246.4" x2="412.38" y2="247.9" stroke="#555" stroke-width="0.6"/>
<line x1="420.23" y1="414.3" x2="420.23" y2="412.8" stroke="#555" stroke-width="0.6"/>
<line x1="420.23" y1="246.4" x2="420.23" y2="247.9" stroke="#555" stroke-width="0.6"/>
<line x1="428.07" y1="414.3" x2="428.07" y2="412.8" stroke="#555" stroke-width="0.6"/>
<line x1="428.07" y1="246.4" x2="428.07" y2="247.9" stroke="#555" stroke-width="0.6"/>
<line x1="443.75" y1="414.3" x2="443.75" y2="412.8" stroke="#555" stroke-width="0.6"/>
<line x1="443.75" y1="246.4" x2="443.75" y2="247.9" stroke="#555" stroke-width="0.6"/>
<line x1="451.59" y1="414.3" x2="451.59" y2="412.8" stroke="#555" stroke-width="0.6"/>
<line x1="451.59" y1="246.4" x2="451.59" y2="247.9" stroke="#555" stroke-width="0.6"/>
<line x1="459.44" y1="414.3" x2="459.44" y2="412.8" stroke="#555" stroke-width="0.6"/>
<line x1="459.44" y1="246.4" x2="459.44" y2="247.9" stroke="#555" stroke-width="0.6"/>
<line x1="467.28" y1="414.3" x2="467.28" y2="412.8" stroke="#555" stroke-width="0.6"/>
<line x1="467.28" y1="246.4" x2="467.28" y2="247.9" stroke="#555" stroke-width="0.6"/>
<line x1="482.96" y1="414.3" x2="482.96" y2="412.8" stroke="#555" stroke-width="0.6"/>
<line x1="482.96" y1="246.4" x2="482.96" y2="247.9" stroke="#555" stroke-width="0.6"/>
<line x1="490.8" y1="414.3" x2="490.8" y2="412.8" stroke="#555" stroke-width="0.6"/>
<line x1="490.8" y1="246.4" x2="490.8" y2="247.9" stroke="#555" stroke-width="0.6"/>
<line x1="498.65" y1="414.3" x2="498.65" y2="412.8" stroke="#555" stroke-width="0.6"/>
<line x1="498.65" y1="246.4" x2="498.65" y2="247.9" stroke="#555" stroke-width="0.6"/>
<line x1="506.49" y1="414.3" x2="506.49" y2="412.8" stroke="#555" stroke-width="0.6"/>
<line x1="506.49" y1="246.4" x2="506.49" y2="247.9" stroke="#555" stroke-width="0.6"/>
<line x1="522.17" y1="414.3" x2="522.17" y2="412.8" stroke="#555" stroke-width="0.6"/>
<line x1="522.17" y1="246.4" x2="522.17" y2="247.9" stroke="#555" stroke-width="0.6"/>
<line x1="530.01" y1="414.3" x2="530.01" y2="412.8" stroke="#555" stroke-width="0.6"/>
<line x1="530.01" y1="246.4" x2="530.01" y2="247.9" stroke="#555" stroke-width="0.6"/>
<line x1="537.86" y1="414.3" x2="537.86" y2="412.8" stroke="#555" stroke-width="0.6"/>
<line x1="537.86" y1="246.4" x2="537.86" y2="247.9" stroke="#555" stroke-width="0.6"/>
<line x1="545.7" y1="414.3" x2="545.7" y2="412.8" stroke="#555" stroke-width="0.6"/>
<line x1="545.7" y1="246.4" x2="545.7" y2="247.9" stroke="#555" stroke-width="0.6"/>
<line x1="561.38" y1="414.3" x2="561.38" y2="412.8" stroke="#555" stroke-width="0.6"/>
<line x1="561.38" y1="246.4" x2="561.38" y2="247.9" stroke="#555" stroke-width="0.6"/>
<line x1="569.22" y1="414.3" x2="569.22" y2="412.8" stroke="#555" stroke-width="0.6"/>
<line x1="569.22" y1="246.4" x2="569.22" y2="247.9" stroke="#555" stroke-width="0.6"/>
<line x1="577.07" y1="414.3" x2="577.07" y2="412.8" stroke="#555" stroke-width="0.6"/>
<line x1="577.07" y1="246.4" x2="577.07" y2="247.9" stroke="#555" stroke-width="0.6"/>
<line x1="584.91" y1="414.3" x2="584.91" y2="412.8" stroke="#555" stroke-width="0.6"/>
<line x1="584.91" y1="246.4" x2="584.91" y2="247.9" stroke="#555" stroke-width="0.6"/>
<line x1="600.59" y1="414.3" x2="600.59" y2="412.8" stroke="#555" stroke-width="0.6"/>
<line x1="600.59" y1="246.4" x2="600.59" y2="247.9" stroke="#555" stroke-width="0.6"/>
<line x1="608.43" y1="414.3" x2="608.43" y2="412.8" stroke="#555" stroke-width="0.6"/>
<line x1="608.43" y1="246.4" x2="608.43" y2="247.9" stroke="#555" stroke-width="0.6"/>
<line x1="616.28" y1="414.3" x2="616.28" y2="412.8" stroke="#555" stroke-width="0.6"/>
<line x1="616.28" y1="246.4" x2="616.28" y2="247.9" stroke="#555" stroke-width="0.6"/>
<line x1="624.12" y1="414.3" x2="624.12" y2="412.8" stroke="#555" stroke-width="0.6"/>
<line x1="624.12" y1="246.4" x2="624.12" y2="247.9" stroke="#555" stroke-width="0.6"/>
<line x1="639.8" y1="414.3" x2="639.8" y2="412.8" stroke="#555" stroke-width="0.6"/>
<line x1="639.8" y1="246.4" x2="639.8" y2="247.9" stroke="#555" stroke-width="0.6"/>
<line x1="647.64" y1="414.3" x2="647.64" y2="412.8" stroke="#555" stroke-width="0.6"/>
<line x1="647.64" y1="246.4" x2="647.64" y2="247.9" stroke="#555" stroke-width="0.6"/>
<line x1="655.49" y1="414.3" x2="655.49" y2="412.8" stroke="#555" stroke-width="0.6"/>
<line x1="655.49" y1="246.4" x2="655.49" y2="247.9" stroke="#555" stroke-width="0.6"/>
<line x1="663.33" y1="414.3" x2="663.33" y2="412.8" stroke="#555" stroke-width="0.6"/>
<line x1="663.33" y1="246.4" x2="663.33" y2="247.9" stroke="#555" stroke-width="0.6"/>
<line x1="396.7" y1="414.3" x2="399.3" y2="414.3" stroke="#444" stroke-width="0.7"/>
<line x1="671.2" y1="414.3" x2="668.6" y2="414.3" stroke="#444" stroke-width="0.7"/>
<line x1="396.7" y1="386.32" x2="399.3" y2="386.32" stroke="#444" stroke-width="0.7"/>
<line x1="671.2" y1="386.32" x2="668.6" y2="386.32" stroke="#444" stroke-width="0.7"/>
<line x1="396.7" y1="358.33" x2="399.3" y2="358.33" stroke="#444" stroke-width="0.7"/>
<line x1="671.2" y1="358.33" x2="668.6" y2="358.33" stroke="#444" stroke-width="0.7"/>
<line x1="396.7" y1="330.35" x2="399.3" y2="330.35" stroke="#444" stroke-width="0.7"/>
<line x1="671.2" y1="330.35" x2="668.6" y2="330.35" stroke="#444" stroke-width="0.7"/>
<line x1="396.7" y1="302.37" x2="399.3" y2="302.37" stroke="#444" stroke-width="0.7"/>
<line x1="671.2" y1="302.37" x2="668.6" y2="302.37" stroke="#444" stroke-width="0.7"/>
<line x1="396.7" y1="274.38" x2="399.3" y2="274.38" stroke="#444" stroke-width="0.7"/>
<line x1="671.2" y1="274.38" x2="668.6" y2="274.38" stroke="#444" stroke-width="0.7"/>
<line x1="396.7" y1="246.4" x2="399.3" y2="246.4" stroke="#444" stroke-width="0.7"/>
<line x1="671.2" y1="246.4" x2="668.6" y2="246.4" stroke="#444" stroke-width="0.7"/>
<line x1="396.7" y1="407.3" x2="398.2" y2="407.3" stroke="#555" stroke-width="0.6"/>
<line x1="671.2" y1="407.3" x2="669.7" y2="407.3" stroke="#555" stroke-width="0.6"/>
<line x1="396.7" y1="400.31" x2="398.2" y2="400.31" stroke="#555" stroke-width="0.6"/>
<line x1="671.2" y1="400.31" x2="669.7" y2="400.31" stroke="#555" stroke-width="0.6"/>
<line x1="396.7" y1="393.31" x2="398.2" y2="393.31" stroke="#555" stroke-width="0.6"/>
<line x1="671.2" y1="393.31" x2="669.7" y2="393.31" stroke="#555" stroke-width="0.6"/>
<line x1="396.7" y1="379.32" x2="398.2" y2="379.32" stroke="#555" stroke-width="0.6"/>
<line x1="671.2" y1="379.32" x2="669.7" y2="379.32" stroke="#555" stroke-width="0.6"/>
<line x1="396.7" y1="372.32" x2="398.2" y2="372.32" stroke="#555" stroke-width="0.6"/>
<line x1="671.2" y1="372.32" x2="669.7" y2="372.32" stroke="#555" stroke-width="0.6"/>
<line x1="396.7" y1="365.33" x2="398.2" y2="365.33" stroke="#555" stroke-width="0.6"/>
<line x1="671.2" y1="365.33" x2="669.7" y2="365.33" stroke="#555" stroke-width="0.6"/>
<line x1="396.7" y1="351.34" x2="398.2" y2="351.34" stroke="#555" stroke-width="0.6"/>
<line x1="671.2" y1="351.34" x2="669.7" y2="351.34" stroke="#555" stroke-width="0.6"/>
<line x1="396.7" y1="344.34" x2="398.2" y2="344.34" stroke="#555" stroke-width="0.6"/>
<line x1="671.2" y1="344.34" x2="669.7" y2="344.34" stroke="#555" stroke-width="0.6"/>
<line x1="396.7" y1="337.35" x2="398.2" y2="337.35" stroke="#555" stroke-width="0.6"/>
<line x1="671.2" y1="337.35" x2="669.7" y2="337.35" stroke="#555" stroke-width="0.6"/>
<line x1="396.7" y1="323.35" x2="398.2" y2="323.35" stroke="#555" stroke-width="0.6"/>
<line x1="671.2" y1="323.35" x2="669.7" y2="323.35" stroke="#555" stroke-width="0.6"/>
<line x1="396.7" y1="316.36" x2="398.2" y2="316.36" stroke="#555" stroke-width="0.6"/>
<line x1="671.2" y1="316.36" x2="669.7" y2="316.36" stroke="#555" stroke-width="0.6"/>
<line x1="396.7" y1="309.36" x2="398.2" y2="309.36" stroke="#555" stroke-width="0.6"/>
<line x1="671.2" y1="309.36" x2="669.7" y2="309.36" stroke="#555" stroke-width="0.6"/>
<line x1="396.7" y1="295.37" x2="398.2" y2="295.37" stroke="#555" stroke-width="0.6"/>
<line x1="671.2" y1="295.37" x2="669.7" y2="295.37" stroke="#555" stroke-width="0.6"/>
<line x1="396.7" y1="288.38" x2="398.2" y2="288.38" stroke="#555" stroke-width="0.6"/>
<line x1="671.2" y1="288.38" x2="669.7" y2="288.38" stroke="#555" stroke-width="0.6"/>
<line x1="396.7" y1="281.38" x2="398.2" y2="281.38" stroke="#555" stroke-width="0.6"/>
<line x1="671.2" y1="281.38" x2="669.7" y2="281.38" stroke="#555" stroke-width="0.6"/>
<line x1="396.7" y1="267.39" x2="398.2" y2="267.39" stroke="#555" stroke-width="0.6"/>
<line x1="671.2" y1="267.39" x2="669.7" y2="267.39" stroke="#555" stroke-width="0.6"/>
<line x1="396.7" y1="260.39" x2="398.2" y2="260.39" stroke="#555" stroke-width="0.6"/>
<line x1="671.2" y1="260.39" x2="669.7" y2="260.39" stroke="#555" stroke-width="0.6"/>
<line x1="396.7" y1="253.4" x2="398.2" y2="253.4" stroke="#555" stroke-width="0.6"/>
<line x1="671.2" y1="253.4" x2="669.7" y2="253.4" stroke="#555" stroke-width="0.6"/>
<rect x="397.9" y="410.52" width="4.7" height="3.78" fill="#2e86c3" stroke="#14283c" stroke-width="0.65"/>
<rect x="402.6" y="406.18" width="4.7" height="8.12" fill="#2e86c3" stroke="#14283c" stroke-width="0.65"/>
<rect x="407.29" y="390.51" width="4.7" height="23.79" fill="#2e86c3" stroke="#14283c" stroke-width="0.65"/>
<rect x="411.99" y="367.15" width="4.7" height="47.15" fill="#2e86c3" stroke="#14283c" stroke-width="0.65"/>
<rect x="416.68" y="348.96" width="4.7" height="65.34" fill="#2e86c3" stroke="#14283c" stroke-width="0.65"/>
<rect x="421.38" y="343.78" width="4.7" height="70.52" fill="#2e86c3" stroke="#14283c" stroke-width="0.65"/>
<rect x="426.08" y="343.78" width="4.7" height="70.52" fill="#2e86c3" stroke="#14283c" stroke-width="0.65"/>
<rect x="430.77" y="336.09" width="4.7" height="78.21" fill="#2e86c3" stroke="#14283c" stroke-width="0.65"/>
<rect x="435.47" y="324.75" width="4.7" height="89.55" fill="#2e86c3" stroke="#14283c" stroke-width="0.65"/>
<rect x="440.16" y="312.44" width="4.7" height="101.86" fill="#2e86c3" stroke="#14283c" stroke-width="0.65"/>
<rect x="444.86" y="302.65" width="4.7" height="111.65" fill="#2e86c3" stroke="#14283c" stroke-width="0.65"/>
<rect x="449.56" y="290.89" width="4.7" height="123.41" fill="#2e86c3" stroke="#14283c" stroke-width="0.65"/>
<rect x="454.25" y="281.24" width="4.7" height="133.06" fill="#2e86c3" stroke="#14283c" stroke-width="0.65"/>
<rect x="458.95" y="270.61" width="4.7" height="143.69" fill="#2e86c3" stroke="#14283c" stroke-width="0.65"/>
<rect x="463.64" y="270.61" width="4.7" height="143.69" fill="#2e86c3" stroke="#14283c" stroke-width="0.65"/>
<rect x="468.34" y="300.97" width="4.7" height="113.33" fill="#2e86c3" stroke="#14283c" stroke-width="0.65"/>
<rect x="473.04" y="326.57" width="4.7" height="87.73" fill="#2e86c3" stroke="#14283c" stroke-width="0.65"/>
<rect x="477.73" y="342.52" width="4.7" height="71.78" fill="#2e86c3" stroke="#14283c" stroke-width="0.65"/>
<rect x="482.43" y="358.75" width="4.7" height="55.55" fill="#2e86c3" stroke="#14283c" stroke-width="0.65"/>
<rect x="487.12" y="371.91" width="4.7" height="42.39" fill="#2e86c3" stroke="#14283c" stroke-width="0.65"/>
<rect x="491.82" y="381.14" width="4.7" height="33.16" fill="#2e86c3" stroke="#14283c" stroke-width="0.65"/>
<rect x="496.52" y="386.32" width="4.7" height="27.98" fill="#2e86c3" stroke="#14283c" stroke-width="0.65"/>
<rect x="501.21" y="392.05" width="4.7" height="22.25" fill="#2e86c3" stroke="#14283c" stroke-width="0.65"/>
<rect x="505.91" y="396.39" width="4.7" height="17.91" fill="#2e86c3" stroke="#14283c" stroke-width="0.65"/>
<rect x="510.6" y="399.05" width="4.7" height="15.25" fill="#2e86c3" stroke="#14283c" stroke-width="0.65"/>
<rect x="515.3" y="401.99" width="4.7" height="12.31" fill="#2e86c3" stroke="#14283c" stroke-width="0.65"/>
<rect x="520" y="404.51" width="4.7" height="9.79" fill="#2e86c3" stroke="#14283c" stroke-width="0.65"/>
<rect x="524.69" y="405.49" width="4.7" height="8.81" fill="#2e86c3" stroke="#14283c" stroke-width="0.65"/>
<rect x="529.39" y="406.74" width="4.7" height="7.56" fill="#2e86c3" stroke="#14283c" stroke-width="0.65"/>
<rect x="534.08" y="408.56" width="4.7" height="5.74" fill="#2e86c3" stroke="#14283c" stroke-width="0.65"/>
<rect x="538.78" y="409.54" width="4.7" height="4.76" fill="#2e86c3" stroke="#14283c" stroke-width="0.65"/>
<rect x="543.48" y="409.12" width="4.7" height="5.18" fill="#2e86c3" stroke="#14283c" stroke-width="0.65"/>
<rect x="548.17" y="410.52" width="4.7" height="3.78" fill="#2e86c3" stroke="#14283c" stroke-width="0.65"/>
<rect x="552.87" y="411.78" width="4.7" height="2.52" fill="#2e86c3" stroke="#14283c" stroke-width="0.65"/>
<rect x="557.56" y="412.06" width="4.7" height="2.24" fill="#2e86c3" stroke="#14283c" stroke-width="0.65"/>
<rect x="562.26" y="412.2" width="4.7" height="2.1" fill="#2e86c3" stroke="#14283c" stroke-width="0.65"/>
<rect x="566.96" y="412.34" width="4.7" height="1.96" fill="#2e86c3" stroke="#14283c" stroke-width="0.65"/>
<rect x="571.65" y="412.34" width="4.7" height="1.96" fill="#2e86c3" stroke="#14283c" stroke-width="0.65"/>
<rect x="576.35" y="412.48" width="4.7" height="1.82" fill="#2e86c3" stroke="#14283c" stroke-width="0.65"/>
<rect x="581.04" y="412.48" width="4.7" height="1.82" fill="#2e86c3" stroke="#14283c" stroke-width="0.65"/>
<rect x="585.74" y="412.34" width="4.7" height="1.96" fill="#2e86c3" stroke="#14283c" stroke-width="0.65"/>
<rect x="590.44" y="412.62" width="4.7" height="1.68" fill="#2e86c3" stroke="#14283c" stroke-width="0.65"/>
<rect x="595.13" y="413.04" width="4.7" height="1.26" fill="#2e86c3" stroke="#14283c" stroke-width="0.65"/>
<rect x="599.83" y="413.6" width="4.7" height="0.7" fill="#2e86c3" stroke="#14283c" stroke-width="0.65"/>
<rect x="604.52" y="413.74" width="4.7" height="0.56" fill="#2e86c3" stroke="#14283c" stroke-width="0.65"/>
<rect x="609.22" y="413.74" width="4.7" height="0.56" fill="#2e86c3" stroke="#14283c" stroke-width="0.65"/>
<rect x="613.92" y="413.88" width="4.7" height="0.42" fill="#2e86c3" stroke="#14283c" stroke-width="0.65"/>
<rect x="618.61" y="413.88" width="4.7" height="0.42" fill="#2e86c3" stroke="#14283c" stroke-width="0.65"/>
<rect x="623.31" y="414.02" width="4.7" height="0.28" fill="#2e86c3" stroke="#14283c" stroke-width="0.65"/>
<rect x="628" y="414.02" width="4.7" height="0.28" fill="#2e86c3" stroke="#14283c" stroke-width="0.65"/>
<path d="M397.9 412.03C398.29 411.78 399.07 411.5 400.25 410.52C401.42 409.55 403.38 409.52 404.94 406.18C406.51 402.85 408.07 397.02 409.64 390.51C411.21 384.01 412.77 374.07 414.34 367.15C415.9 360.22 417.47 352.85 419.03 348.96C420.6 345.06 422.16 344.64 423.73 343.78C425.29 342.92 426.86 345.06 428.42 343.78C429.99 342.5 431.55 339.26 433.12 336.09C434.69 332.92 436.25 328.69 437.82 324.75C439.38 320.81 440.95 316.13 442.51 312.44C444.08 308.76 445.64 306.24 447.21 302.65C448.77 299.06 450.34 294.46 451.9 290.89C453.47 287.33 455.03 284.62 456.6 281.24C458.17 277.86 459.73 272.38 461.3 270.61C462.86 268.83 464.43 265.55 465.99 270.61C467.56 275.67 469.12 291.64 470.69 300.97C472.25 310.3 473.82 319.65 475.38 326.57C476.95 333.5 478.51 337.16 480.08 342.52C481.65 347.89 483.21 353.86 484.78 358.75C486.34 363.65 487.91 368.17 489.47 371.91C491.04 375.64 492.6 378.74 494.17 381.14C495.73 383.54 497.3 384.5 498.86 386.32C500.43 388.14 501.99 390.37 503.56 392.05C505.13 393.73 506.69 395.22 508.26 396.39C509.82 397.56 511.39 398.12 512.95 399.05C514.52 399.98 516.08 401.08 517.65 401.99C519.21 402.9 520.78 403.92 522.34 404.51C523.91 405.09 525.47 405.11 527.04 405.49C528.61 405.86 530.17 406.23 531.74 406.74C533.3 407.26 534.87 408.1 536.43 408.56C538 409.03 539.56 409.45 541.13 409.54C542.69 409.64 544.26 408.96 545.82 409.12C547.39 409.29 548.95 410.08 550.52 410.52C552.09 410.97 553.65 411.52 555.22 411.78C556.78 412.04 558.35 411.99 559.91 412.06C561.48 412.13 563.04 412.15 564.61 412.2C566.17 412.25 567.74 412.32 569.3 412.34C570.87 412.36 572.43 412.32 574 412.34C575.57 412.36 577.13 412.46 578.7 412.48C580.26 412.5 581.83 412.5 583.39 412.48C584.96 412.46 586.52 412.32 588.09 412.34C589.65 412.36 591.22 412.5 592.78 412.62C594.35 412.74 595.91 412.88 597.48 413.04C599.05 413.2 600.61 413.48 602.18 413.6C603.74 413.72 605.31 413.72 606.87 413.74C608.44 413.76 610 413.72 611.57 413.74C613.13 413.76 614.7 413.86 616.26 413.88C617.83 413.9 619.39 413.86 620.96 413.88C622.53 413.9 624.09 414 625.66 414.02C627.22 414.04 629.18 413.97 630.35 414.02C631.53 414.07 632.31 414.25 632.7 414.3" fill="none" stroke="#2038d6" stroke-width="1.1" stroke-linejoin="round"/>
<text x="396.7" y="424.5" font-family="Liberation Sans, sans-serif" font-size="7.8" fill="#222" text-anchor="middle">0</text>
<text x="435.91" y="424.5" font-family="Liberation Sans, sans-serif" font-size="7.8" fill="#222" text-anchor="middle">100</text>
<text x="475.12" y="424.5" font-family="Liberation Sans, sans-serif" font-size="7.8" fill="#222" text-anchor="middle">200</text>
<text x="514.33" y="424.5" font-family="Liberation Sans, sans-serif" font-size="7.8" fill="#222" text-anchor="middle">300</text>
<text x="553.54" y="424.5" font-family="Liberation Sans, sans-serif" font-size="7.8" fill="#222" text-anchor="middle">400</text>
<text x="592.75" y="424.5" font-family="Liberation Sans, sans-serif" font-size="7.8" fill="#222" text-anchor="middle">500</text>
<text x="631.96" y="424.5" font-family="Liberation Sans, sans-serif" font-size="7.8" fill="#222" text-anchor="middle">600</text>
<text x="671.17" y="424.5" font-family="Liberation Sans, sans-serif" font-size="7.8" fill="#222" text-anchor="middle">700</text>
<text x="387.7" y="415.8" font-family="Liberation Sans, sans-serif" font-size="7.8" fill="#222" text-anchor="middle">0</text>
<text x="387.7" y="387.82" font-family="Liberation Sans, sans-serif" font-size="7.8" fill="#222" text-anchor="middle">2</text>
<text x="387.7" y="359.83" font-family="Liberation Sans, sans-serif" font-size="7.8" fill="#222" text-anchor="middle">4</text>
<text x="387.7" y="331.85" font-family="Liberation Sans, sans-serif" font-size="7.8" fill="#222" text-anchor="middle">6</text>
<text x="387.7" y="303.87" font-family="Liberation Sans, sans-serif" font-size="7.8" fill="#222" text-anchor="middle">8</text>
<text x="387.7" y="275.88" font-family="Liberation Sans, sans-serif" font-size="7.8" fill="#222" text-anchor="middle">10</text>
<text x="387.7" y="247.9" font-family="Liberation Sans, sans-serif" font-size="7.8" fill="#222" text-anchor="middle">12</text>
<rect x="635.8" y="255.7" width="20.98" height="6" fill="#fff"/>
<text x="636.3" y="260.3" font-family="Liberation Sans, sans-serif" font-size="4.55" fill="#262626">Min:2.969</text>
<rect x="635.8" y="264.05" width="27.3" height="6" fill="#fff"/>
<text x="636.3" y="268.65" font-family="Liberation Sans, sans-serif" font-size="4.55" fill="#262626">Max:602.021</text>
<rect x="635.8" y="272.4" width="30.09" height="6" fill="#fff"/>
<text x="636.3" y="277" font-family="Liberation Sans, sans-serif" font-size="4.55" fill="#262626">Mean:160.758</text>
<rect x="635.8" y="280.75" width="33.63" height="6" fill="#fff"/>
<text x="636.3" y="285.35" font-family="Liberation Sans, sans-serif" font-size="4.55" fill="#262626">Median:155.941</text>
<rect x="635.8" y="289.1" width="25.53" height="6" fill="#fff"/>
<text x="636.3" y="293.7" font-family="Liberation Sans, sans-serif" font-size="4.55" fill="#262626">SDE:76.969</text>
<text x="368.5" y="239.8" font-family="Liberation Sans, sans-serif" font-size="11.5" font-weight="bold" fill="#111">d</text>
<text x="524.6" y="238.4" font-family="Liberation Sans, sans-serif" font-size="9.0" font-weight="bold" fill="#111" text-anchor="middle">Frequency Distribution Histogram</text>
<text x="533.8" y="437.3" font-family="Liberation Sans, sans-serif" font-size="8" font-weight="bold" fill="#222" text-anchor="middle">Concentration</text>
<text transform="translate(375.8,329.5) rotate(-90)" font-family="Liberation Sans, sans-serif" font-size="8" font-weight="bold" fill="#222" text-anchor="middle">Frequency (10^3)</text>
</svg>
</body></html>
